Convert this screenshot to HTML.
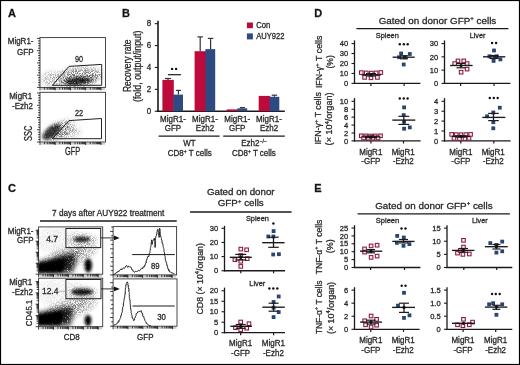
<!DOCTYPE html>
<html><head><meta charset="utf-8"><style>
html,body{margin:0;padding:0;background:#fff;}
svg{display:block;font-family:"Liberation Sans", sans-serif;will-change:transform;}
text{stroke:#2a2a2a;stroke-width:0.28px;}
text.s{transform-box:fill-box;transform-origin:50% 80%;transform:scaleY(1.045);}
</style></head><body>
<svg width="520" height="365" viewBox="0 0 520 365">
<defs>
<filter id="blur1" x="-20%" y="-20%" width="140%" height="140%"><feGaussianBlur stdDeviation="2.2"/></filter>
<filter id="blur15" x="-30%" y="-30%" width="160%" height="160%"><feGaussianBlur stdDeviation="1.4"/></filter>
<filter id="grain" x="-30%" y="-30%" width="160%" height="160%"><feGaussianBlur in="SourceGraphic" stdDeviation="2.2" result="b"/>
<feTurbulence type="fractalNoise" baseFrequency="1.1" numOctaves="2" seed="4" result="n"/>
<feColorMatrix in="n" type="matrix" values="0 0 0 0 0  0 0 0 0 0  0 0 0 0 0  0 0 0 3.2 -1.1" result="na"/>
<feComposite in="b" in2="na" operator="in"/></filter>
<filter id="grain2" x="-30%" y="-30%" width="160%" height="160%"><feGaussianBlur in="SourceGraphic" stdDeviation="1.6" result="b"/>
<feTurbulence type="fractalNoise" baseFrequency="1.1" numOctaves="2" seed="9" result="n"/>
<feColorMatrix in="n" type="matrix" values="0 0 0 0 0  0 0 0 0 0  0 0 0 0 0  0 0 0 3 0.1" result="na"/>
<feComposite in="b" in2="na" operator="in"/></filter>
<filter id="grain3" x="-30%" y="-30%" width="160%" height="160%"><feGaussianBlur in="SourceGraphic" stdDeviation="2.4" result="b"/>
<feTurbulence type="fractalNoise" baseFrequency="1.2" numOctaves="2" seed="13" result="n"/>
<feColorMatrix in="n" type="matrix" values="0 0 0 0 0  0 0 0 0 0  0 0 0 0 0  0 0 0 3 -0.3" result="na"/>
<feComposite in="b" in2="na" operator="in"/></filter>
<clipPath id="cpA1"><rect x="40.5" y="38" width="64.5" height="49"/></clipPath>
<clipPath id="cpA2"><rect x="40.5" y="92.8" width="64.5" height="48.7"/></clipPath>
<clipPath id="cpC1"><rect x="39.1" y="227.4" width="63.1" height="46.3"/></clipPath>
<clipPath id="cpC2"><rect x="39.1" y="278.7" width="63.1" height="47.5"/></clipPath>
</defs>
<rect width="520" height="365" fill="#fff"/>
<rect x="0.5" y="0.5" width="519" height="364" fill="none" stroke="#000" stroke-width="1.2" />
<text class="s" x="8" y="17" font-size="11" fill="#111" font-weight="bold" >A</text>
<text class="s" x="122" y="17" font-size="11" fill="#111" font-weight="bold" >B</text>
<text class="s" x="8" y="192" font-size="11" fill="#111" font-weight="bold" >C</text>
<text class="s" x="314.3" y="17.3" font-size="11" fill="#111" font-weight="bold" >D</text>
<text class="s" x="314.3" y="192" font-size="11" fill="#111" font-weight="bold" >E</text>
<g id="A">
<rect x="40" y="37.6" width="65.5" height="49.800000000000004" fill="none" stroke="#333" stroke-width="0.9" />
<line x1="37" y1="87.4" x2="40" y2="87.4" stroke="#111" stroke-width="0.8" />
<line x1="38.1" y1="84.95" x2="40" y2="84.95" stroke="#111" stroke-width="0.8" />
<line x1="38.1" y1="82.5" x2="40" y2="82.5" stroke="#111" stroke-width="0.8" />
<line x1="38.1" y1="80.05" x2="40" y2="80.05" stroke="#111" stroke-width="0.8" />
<line x1="38.1" y1="77.6" x2="40" y2="77.6" stroke="#111" stroke-width="0.8" />
<line x1="37" y1="75.15" x2="40" y2="75.15" stroke="#111" stroke-width="0.8" />
<line x1="38.1" y1="72.7" x2="40" y2="72.7" stroke="#111" stroke-width="0.8" />
<line x1="38.1" y1="70.25" x2="40" y2="70.25" stroke="#111" stroke-width="0.8" />
<line x1="38.1" y1="67.8" x2="40" y2="67.8" stroke="#111" stroke-width="0.8" />
<line x1="38.1" y1="65.35" x2="40" y2="65.35" stroke="#111" stroke-width="0.8" />
<line x1="37" y1="62.9" x2="40" y2="62.9" stroke="#111" stroke-width="0.8" />
<line x1="38.1" y1="60.45" x2="40" y2="60.45" stroke="#111" stroke-width="0.8" />
<line x1="38.1" y1="58.0" x2="40" y2="58.0" stroke="#111" stroke-width="0.8" />
<line x1="38.1" y1="55.55" x2="40" y2="55.55" stroke="#111" stroke-width="0.8" />
<line x1="38.1" y1="53.1" x2="40" y2="53.1" stroke="#111" stroke-width="0.8" />
<line x1="37" y1="50.65" x2="40" y2="50.65" stroke="#111" stroke-width="0.8" />
<line x1="38.1" y1="48.2" x2="40" y2="48.2" stroke="#111" stroke-width="0.8" />
<line x1="38.1" y1="45.75" x2="40" y2="45.75" stroke="#111" stroke-width="0.8" />
<line x1="38.1" y1="43.3" x2="40" y2="43.3" stroke="#111" stroke-width="0.8" />
<line x1="38.1" y1="40.85" x2="40" y2="40.85" stroke="#111" stroke-width="0.8" />
<line x1="37" y1="38.4" x2="40" y2="38.4" stroke="#111" stroke-width="0.8" />
<rect x="41" y="88.0" width="64.0" height="2.0" fill="#888" opacity="0.45"/>
<line x1="40.0" y1="87.4" x2="40.0" y2="90.4" stroke="#111" stroke-width="0.8" />
<line x1="44.59" y1="87.4" x2="44.59" y2="89.60000000000001" stroke="#111" stroke-width="0.8" />
<line x1="47.27" y1="87.4" x2="47.27" y2="89.60000000000001" stroke="#111" stroke-width="0.8" />
<line x1="49.17" y1="87.4" x2="49.17" y2="89.60000000000001" stroke="#111" stroke-width="0.8" />
<line x1="50.65" y1="87.4" x2="50.65" y2="89.60000000000001" stroke="#111" stroke-width="0.8" />
<line x1="51.85" y1="87.4" x2="51.85" y2="89.60000000000001" stroke="#111" stroke-width="0.8" />
<line x1="52.87" y1="87.4" x2="52.87" y2="89.60000000000001" stroke="#111" stroke-width="0.8" />
<line x1="53.76" y1="87.4" x2="53.76" y2="89.60000000000001" stroke="#111" stroke-width="0.8" />
<line x1="54.54" y1="87.4" x2="54.54" y2="89.60000000000001" stroke="#111" stroke-width="0.8" />
<line x1="55.23" y1="87.4" x2="55.23" y2="90.4" stroke="#111" stroke-width="0.8" />
<line x1="59.82" y1="87.4" x2="59.82" y2="89.60000000000001" stroke="#111" stroke-width="0.8" />
<line x1="62.5" y1="87.4" x2="62.5" y2="89.60000000000001" stroke="#111" stroke-width="0.8" />
<line x1="64.4" y1="87.4" x2="64.4" y2="89.60000000000001" stroke="#111" stroke-width="0.8" />
<line x1="65.88" y1="87.4" x2="65.88" y2="89.60000000000001" stroke="#111" stroke-width="0.8" />
<line x1="67.09" y1="87.4" x2="67.09" y2="89.60000000000001" stroke="#111" stroke-width="0.8" />
<line x1="68.11" y1="87.4" x2="68.11" y2="89.60000000000001" stroke="#111" stroke-width="0.8" />
<line x1="68.99" y1="87.4" x2="68.99" y2="89.60000000000001" stroke="#111" stroke-width="0.8" />
<line x1="69.77" y1="87.4" x2="69.77" y2="89.60000000000001" stroke="#111" stroke-width="0.8" />
<line x1="70.47" y1="87.4" x2="70.47" y2="90.4" stroke="#111" stroke-width="0.8" />
<line x1="75.05" y1="87.4" x2="75.05" y2="89.60000000000001" stroke="#111" stroke-width="0.8" />
<line x1="77.73" y1="87.4" x2="77.73" y2="89.60000000000001" stroke="#111" stroke-width="0.8" />
<line x1="79.64" y1="87.4" x2="79.64" y2="89.60000000000001" stroke="#111" stroke-width="0.8" />
<line x1="81.11" y1="87.4" x2="81.11" y2="89.60000000000001" stroke="#111" stroke-width="0.8" />
<line x1="82.32" y1="87.4" x2="82.32" y2="89.60000000000001" stroke="#111" stroke-width="0.8" />
<line x1="83.34" y1="87.4" x2="83.34" y2="89.60000000000001" stroke="#111" stroke-width="0.8" />
<line x1="84.22" y1="87.4" x2="84.22" y2="89.60000000000001" stroke="#111" stroke-width="0.8" />
<line x1="85.0" y1="87.4" x2="85.0" y2="89.60000000000001" stroke="#111" stroke-width="0.8" />
<line x1="85.7" y1="87.4" x2="85.7" y2="90.4" stroke="#111" stroke-width="0.8" />
<line x1="90.28" y1="87.4" x2="90.28" y2="89.60000000000001" stroke="#111" stroke-width="0.8" />
<line x1="92.97" y1="87.4" x2="92.97" y2="89.60000000000001" stroke="#111" stroke-width="0.8" />
<line x1="94.87" y1="87.4" x2="94.87" y2="89.60000000000001" stroke="#111" stroke-width="0.8" />
<line x1="96.34" y1="87.4" x2="96.34" y2="89.60000000000001" stroke="#111" stroke-width="0.8" />
<line x1="97.55" y1="87.4" x2="97.55" y2="89.60000000000001" stroke="#111" stroke-width="0.8" />
<line x1="98.57" y1="87.4" x2="98.57" y2="89.60000000000001" stroke="#111" stroke-width="0.8" />
<line x1="99.45" y1="87.4" x2="99.45" y2="89.60000000000001" stroke="#111" stroke-width="0.8" />
<line x1="100.23" y1="87.4" x2="100.23" y2="89.60000000000001" stroke="#111" stroke-width="0.8" />
<line x1="100.93" y1="87.4" x2="100.93" y2="90.4" stroke="#111" stroke-width="0.8" />
<rect x="40" y="92.3" width="65.5" height="49.7" fill="none" stroke="#333" stroke-width="0.9" />
<line x1="37" y1="142" x2="40" y2="142" stroke="#111" stroke-width="0.8" />
<line x1="38.1" y1="139.55" x2="40" y2="139.55" stroke="#111" stroke-width="0.8" />
<line x1="38.1" y1="137.1" x2="40" y2="137.1" stroke="#111" stroke-width="0.8" />
<line x1="38.1" y1="134.65" x2="40" y2="134.65" stroke="#111" stroke-width="0.8" />
<line x1="38.1" y1="132.2" x2="40" y2="132.2" stroke="#111" stroke-width="0.8" />
<line x1="37" y1="129.75" x2="40" y2="129.75" stroke="#111" stroke-width="0.8" />
<line x1="38.1" y1="127.3" x2="40" y2="127.3" stroke="#111" stroke-width="0.8" />
<line x1="38.1" y1="124.85" x2="40" y2="124.85" stroke="#111" stroke-width="0.8" />
<line x1="38.1" y1="122.4" x2="40" y2="122.4" stroke="#111" stroke-width="0.8" />
<line x1="38.1" y1="119.95" x2="40" y2="119.95" stroke="#111" stroke-width="0.8" />
<line x1="37" y1="117.5" x2="40" y2="117.5" stroke="#111" stroke-width="0.8" />
<line x1="38.1" y1="115.05" x2="40" y2="115.05" stroke="#111" stroke-width="0.8" />
<line x1="38.1" y1="112.6" x2="40" y2="112.6" stroke="#111" stroke-width="0.8" />
<line x1="38.1" y1="110.15" x2="40" y2="110.15" stroke="#111" stroke-width="0.8" />
<line x1="38.1" y1="107.7" x2="40" y2="107.7" stroke="#111" stroke-width="0.8" />
<line x1="37" y1="105.25" x2="40" y2="105.25" stroke="#111" stroke-width="0.8" />
<line x1="38.1" y1="102.8" x2="40" y2="102.8" stroke="#111" stroke-width="0.8" />
<line x1="38.1" y1="100.35" x2="40" y2="100.35" stroke="#111" stroke-width="0.8" />
<line x1="38.1" y1="97.9" x2="40" y2="97.9" stroke="#111" stroke-width="0.8" />
<line x1="38.1" y1="95.45" x2="40" y2="95.45" stroke="#111" stroke-width="0.8" />
<line x1="37" y1="93.0" x2="40" y2="93.0" stroke="#111" stroke-width="0.8" />
<rect x="41" y="142.6" width="64.0" height="2.0" fill="#888" opacity="0.45"/>
<line x1="40.0" y1="142" x2="40.0" y2="145" stroke="#111" stroke-width="0.8" />
<line x1="44.59" y1="142" x2="44.59" y2="144.2" stroke="#111" stroke-width="0.8" />
<line x1="47.27" y1="142" x2="47.27" y2="144.2" stroke="#111" stroke-width="0.8" />
<line x1="49.17" y1="142" x2="49.17" y2="144.2" stroke="#111" stroke-width="0.8" />
<line x1="50.65" y1="142" x2="50.65" y2="144.2" stroke="#111" stroke-width="0.8" />
<line x1="51.85" y1="142" x2="51.85" y2="144.2" stroke="#111" stroke-width="0.8" />
<line x1="52.87" y1="142" x2="52.87" y2="144.2" stroke="#111" stroke-width="0.8" />
<line x1="53.76" y1="142" x2="53.76" y2="144.2" stroke="#111" stroke-width="0.8" />
<line x1="54.54" y1="142" x2="54.54" y2="144.2" stroke="#111" stroke-width="0.8" />
<line x1="55.23" y1="142" x2="55.23" y2="145" stroke="#111" stroke-width="0.8" />
<line x1="59.82" y1="142" x2="59.82" y2="144.2" stroke="#111" stroke-width="0.8" />
<line x1="62.5" y1="142" x2="62.5" y2="144.2" stroke="#111" stroke-width="0.8" />
<line x1="64.4" y1="142" x2="64.4" y2="144.2" stroke="#111" stroke-width="0.8" />
<line x1="65.88" y1="142" x2="65.88" y2="144.2" stroke="#111" stroke-width="0.8" />
<line x1="67.09" y1="142" x2="67.09" y2="144.2" stroke="#111" stroke-width="0.8" />
<line x1="68.11" y1="142" x2="68.11" y2="144.2" stroke="#111" stroke-width="0.8" />
<line x1="68.99" y1="142" x2="68.99" y2="144.2" stroke="#111" stroke-width="0.8" />
<line x1="69.77" y1="142" x2="69.77" y2="144.2" stroke="#111" stroke-width="0.8" />
<line x1="70.47" y1="142" x2="70.47" y2="145" stroke="#111" stroke-width="0.8" />
<line x1="75.05" y1="142" x2="75.05" y2="144.2" stroke="#111" stroke-width="0.8" />
<line x1="77.73" y1="142" x2="77.73" y2="144.2" stroke="#111" stroke-width="0.8" />
<line x1="79.64" y1="142" x2="79.64" y2="144.2" stroke="#111" stroke-width="0.8" />
<line x1="81.11" y1="142" x2="81.11" y2="144.2" stroke="#111" stroke-width="0.8" />
<line x1="82.32" y1="142" x2="82.32" y2="144.2" stroke="#111" stroke-width="0.8" />
<line x1="83.34" y1="142" x2="83.34" y2="144.2" stroke="#111" stroke-width="0.8" />
<line x1="84.22" y1="142" x2="84.22" y2="144.2" stroke="#111" stroke-width="0.8" />
<line x1="85.0" y1="142" x2="85.0" y2="144.2" stroke="#111" stroke-width="0.8" />
<line x1="85.7" y1="142" x2="85.7" y2="145" stroke="#111" stroke-width="0.8" />
<line x1="90.28" y1="142" x2="90.28" y2="144.2" stroke="#111" stroke-width="0.8" />
<line x1="92.97" y1="142" x2="92.97" y2="144.2" stroke="#111" stroke-width="0.8" />
<line x1="94.87" y1="142" x2="94.87" y2="144.2" stroke="#111" stroke-width="0.8" />
<line x1="96.34" y1="142" x2="96.34" y2="144.2" stroke="#111" stroke-width="0.8" />
<line x1="97.55" y1="142" x2="97.55" y2="144.2" stroke="#111" stroke-width="0.8" />
<line x1="98.57" y1="142" x2="98.57" y2="144.2" stroke="#111" stroke-width="0.8" />
<line x1="99.45" y1="142" x2="99.45" y2="144.2" stroke="#111" stroke-width="0.8" />
<line x1="100.23" y1="142" x2="100.23" y2="144.2" stroke="#111" stroke-width="0.8" />
<line x1="100.93" y1="142" x2="100.93" y2="145" stroke="#111" stroke-width="0.8" />
<g clip-path="url(#cpA1)">
<g filter="url(#grain)">
<ellipse cx="51" cy="79" rx="9" ry="7.5" fill="#777" opacity="0.6"/>
<ellipse cx="78" cy="77" rx="24" ry="9.5" fill="#555" opacity="0.75" transform="rotate(-6 78 77)"/>
<ellipse cx="79" cy="80" rx="17" ry="5.5" fill="#222" opacity="0.7" transform="rotate(-4 79 80)"/>
</g>
<g filter="url(#grain2)">
<ellipse cx="78" cy="81" rx="13" ry="3.6" fill="#000" opacity="0.75" transform="rotate(-4 78 81)"/>
</g>
</g>
<g clip-path="url(#cpA2)">
<g filter="url(#grain)">
<ellipse cx="68" cy="133" rx="13" ry="5.5" fill="#888" opacity="0.6" transform="rotate(-10 68 133)"/>
<ellipse cx="59" cy="130.5" rx="16" ry="8" fill="#444" opacity="0.7" transform="rotate(-28 59 130.5)"/>
</g>
<g filter="url(#grain2)">
<ellipse cx="51.5" cy="132" rx="11" ry="5.2" fill="#000" opacity="0.72" transform="rotate(-38 51.5 132)"/>
</g>
</g>
<polygon points="52.4,85.3 69,66.4 101.7,64.4 101.7,85.3" fill="none" stroke="#222" stroke-width="1"/>
<polygon points="52.4,138.7 69,120.6 101.5,118.5 101.5,138.7" fill="none" stroke="#222" stroke-width="1"/>
<text class="s" x="79.05" y="61.7" font-size="8.4" fill="#262626" text-anchor="middle" textLength="8.1" lengthAdjust="spacingAndGlyphs" >90</text>
<text class="s" x="79.05" y="115.6" font-size="8.4" fill="#262626" text-anchor="middle" textLength="8.1" lengthAdjust="spacingAndGlyphs" >22</text>
<text class="s" x="33.5" y="44.5" font-size="8" fill="#262626" text-anchor="end" >MigR1-</text>
<text class="s" x="33.5" y="54.6" font-size="8" fill="#262626" text-anchor="end" >GFP</text>
<text class="s" x="32.3" y="98.8" font-size="8" fill="#262626" text-anchor="end" >MigR1</text>
<text class="s" x="33" y="108.7" font-size="8" fill="#262626" text-anchor="end" >-Ezh2</text>
<text transform="translate(32.3,133.2) rotate(-90)" font-size="10.8" fill="#262626" text-anchor="middle" textLength="15.4" lengthAdjust="spacingAndGlyphs" >SSC</text>
<text class="s" x="72.6" y="154.6" font-size="9.9" fill="#262626" text-anchor="middle" textLength="15.2" lengthAdjust="spacingAndGlyphs" >GFP</text>
</g>
<g id="B">
<line x1="158" y1="20.8" x2="158" y2="111.95" stroke="#1a1a1a" stroke-width="1.6" />
<line x1="157.3" y1="111.25" x2="284.8" y2="111.25" stroke="#1a1a1a" stroke-width="1.5" />
<line x1="154.8" y1="111.25" x2="158" y2="111.25" stroke="#1a1a1a" stroke-width="1.1" />
<text class="s" x="151.2" y="114.05" font-size="8" fill="#262626" text-anchor="end" >0</text>
<line x1="154.8" y1="89.35" x2="158" y2="89.35" stroke="#1a1a1a" stroke-width="1.1" />
<text class="s" x="151.2" y="92.14999999999999" font-size="8" fill="#262626" text-anchor="end" >2</text>
<line x1="154.8" y1="67.45" x2="158" y2="67.45" stroke="#1a1a1a" stroke-width="1.1" />
<text class="s" x="151.2" y="70.25" font-size="8" fill="#262626" text-anchor="end" >4</text>
<line x1="154.8" y1="45.55000000000001" x2="158" y2="45.55000000000001" stroke="#1a1a1a" stroke-width="1.1" />
<text class="s" x="151.2" y="48.35000000000001" font-size="8" fill="#262626" text-anchor="end" >6</text>
<line x1="154.8" y1="23.650000000000006" x2="158" y2="23.650000000000006" stroke="#1a1a1a" stroke-width="1.1" />
<text class="s" x="151.2" y="26.450000000000006" font-size="8" fill="#262626" text-anchor="end" >8</text>
<line x1="168.0" y1="78.5" x2="168.0" y2="79.9" stroke="#333" stroke-width="1.2" />
<line x1="165.0" y1="78.5" x2="171.0" y2="78.5" stroke="#333" stroke-width="1.2" />
<rect x="162.4" y="79.9" width="11.399999999999983" height="31.349999999999994" fill="#bd0a3b" />
<line x1="178.4" y1="90.4" x2="178.4" y2="94.6" stroke="#333" stroke-width="1.2" />
<line x1="175.9" y1="90.4" x2="180.9" y2="90.4" stroke="#333" stroke-width="1.2" />
<rect x="173.2" y="94.6" width="9.800000000000011" height="16.650000000000006" fill="#2d4b82" />
<line x1="200.2" y1="36.9" x2="200.2" y2="51.2" stroke="#333" stroke-width="1.2" />
<line x1="197.45" y1="36.9" x2="202.95" y2="36.9" stroke="#333" stroke-width="1.2" />
<rect x="194.6" y="51.2" width="11.400000000000011" height="60.05" fill="#bd0a3b" />
<line x1="210.6" y1="38.4" x2="210.6" y2="49.1" stroke="#333" stroke-width="1.2" />
<line x1="207.85" y1="38.4" x2="213.35" y2="38.4" stroke="#333" stroke-width="1.2" />
<rect x="205.4" y="49.1" width="9.799999999999983" height="62.15" fill="#2d4b82" />
<rect x="226.6" y="109.4" width="11.400000000000011" height="1.8499999999999943" fill="#bd0a3b" />
<line x1="242.4" y1="107.6" x2="242.4" y2="108.3" stroke="#333" stroke-width="1.2" />
<line x1="239.9" y1="107.6" x2="244.9" y2="107.6" stroke="#333" stroke-width="1.2" />
<rect x="237.4" y="108.3" width="9.799999999999983" height="2.950000000000003" fill="#2d4b82" />
<rect x="258.7" y="95.9" width="11.400000000000011" height="15.349999999999994" fill="#bd0a3b" />
<line x1="274.4" y1="95.2" x2="274.4" y2="96.8" stroke="#333" stroke-width="1.2" />
<line x1="271.65" y1="95.2" x2="277.15" y2="95.2" stroke="#333" stroke-width="1.2" />
<rect x="269.5" y="96.8" width="9.800000000000011" height="14.450000000000003" fill="#2d4b82" />
<line x1="167.9" y1="74.7" x2="180.9" y2="74.7" stroke="#1a1a1a" stroke-width="1.2" />
<circle cx="172.1" cy="68.9" r="1.2" fill="#111"/>
<circle cx="176.1" cy="68.9" r="1.2" fill="#111"/>
<text class="s" x="173" y="121.8" font-size="8" fill="#262626" text-anchor="middle" >MigR1-</text>
<text class="s" x="173" y="131.4" font-size="8" fill="#262626" text-anchor="middle" >GFP</text>
<text class="s" x="205" y="121.8" font-size="8" fill="#262626" text-anchor="middle" >MigR1-</text>
<text class="s" x="205" y="131.4" font-size="8" fill="#262626" text-anchor="middle" >Ezh2</text>
<text class="s" x="237.2" y="121.8" font-size="8" fill="#262626" text-anchor="middle" >MigR1-</text>
<text class="s" x="237.2" y="131.4" font-size="8" fill="#262626" text-anchor="middle" >GFP</text>
<text class="s" x="269" y="121.8" font-size="8" fill="#262626" text-anchor="middle" >MigR1-</text>
<text class="s" x="269" y="131.4" font-size="8" fill="#262626" text-anchor="middle" >Ezh2</text>
<line x1="158.6" y1="136.2" x2="219.6" y2="136.2" stroke="#1a1a1a" stroke-width="1.3" />
<line x1="223.2" y1="136.2" x2="284.8" y2="136.2" stroke="#1a1a1a" stroke-width="1.3" />
<text class="s" x="189.5" y="146.5" font-size="8" fill="#262626" text-anchor="middle" >WT</text>
<text class="s" x="189.8" y="156" font-size="8" fill="#262626" text-anchor="middle" >CD8<tspan font-size="5" dy="-3">+</tspan><tspan dy="3"> T cells</tspan></text>
<text class="s" x="254" y="146.5" font-size="8" fill="#262626" text-anchor="middle" >Ezh2<tspan font-size="5" dy="-3">−/−</tspan></text>
<text class="s" x="253.9" y="156" font-size="8" fill="#262626" text-anchor="middle" >CD8<tspan font-size="5" dy="-3">+</tspan><tspan dy="3"> T cells</tspan></text>
<rect x="246.9" y="22.5" width="6" height="5.7" fill="#bd0a3b" />
<rect x="246.9" y="33.4" width="6" height="6" fill="#2d4b82" />
<text class="s" x="256.2" y="27.9" font-size="8" fill="#262626" textLength="14" lengthAdjust="spacingAndGlyphs" >Con</text>
<text class="s" x="256.2" y="38.8" font-size="8" fill="#262626" textLength="28.2" lengthAdjust="spacingAndGlyphs" >AUY922</text>
<text transform="translate(130.5,65.8) rotate(-90)" font-size="10" fill="#262626" text-anchor="middle" textLength="52.6" lengthAdjust="spacingAndGlyphs" >Recovery rate</text>
<text transform="translate(141,66.3) rotate(-90)" font-size="10" fill="#262626" text-anchor="middle" textLength="71.5" lengthAdjust="spacingAndGlyphs" >(fold, output/input)</text>
</g>
<g id="C">
<text class="s" x="108.25" y="215.6" font-size="8.2" fill="#262626" text-anchor="middle" textLength="112.3" lengthAdjust="spacingAndGlyphs" >7 days after AUY922 treatment</text>
<line x1="40" y1="221" x2="176.7" y2="221" stroke="#1a1a1a" stroke-width="1.3" />
<rect x="38.6" y="226.9" width="64.1" height="47.29999999999998" fill="none" stroke="#333" stroke-width="0.9" />
<line x1="35.6" y1="274.2" x2="38.6" y2="274.2" stroke="#111" stroke-width="0.8" />
<line x1="36.6" y1="270.89" x2="38.6" y2="270.89" stroke="#111" stroke-width="0.8" />
<line x1="36.6" y1="268.95" x2="38.6" y2="268.95" stroke="#111" stroke-width="0.8" />
<line x1="36.6" y1="267.58" x2="38.6" y2="267.58" stroke="#111" stroke-width="0.8" />
<line x1="36.6" y1="266.51" x2="38.6" y2="266.51" stroke="#111" stroke-width="0.8" />
<line x1="36.6" y1="265.64" x2="38.6" y2="265.64" stroke="#111" stroke-width="0.8" />
<line x1="36.6" y1="264.9" x2="38.6" y2="264.9" stroke="#111" stroke-width="0.8" />
<line x1="36.6" y1="264.27" x2="38.6" y2="264.27" stroke="#111" stroke-width="0.8" />
<line x1="36.6" y1="263.7" x2="38.6" y2="263.7" stroke="#111" stroke-width="0.8" />
<line x1="35.6" y1="263.2" x2="38.6" y2="263.2" stroke="#111" stroke-width="0.8" />
<line x1="36.6" y1="259.89" x2="38.6" y2="259.89" stroke="#111" stroke-width="0.8" />
<line x1="36.6" y1="257.95" x2="38.6" y2="257.95" stroke="#111" stroke-width="0.8" />
<line x1="36.6" y1="256.58" x2="38.6" y2="256.58" stroke="#111" stroke-width="0.8" />
<line x1="36.6" y1="255.51" x2="38.6" y2="255.51" stroke="#111" stroke-width="0.8" />
<line x1="36.6" y1="254.64" x2="38.6" y2="254.64" stroke="#111" stroke-width="0.8" />
<line x1="36.6" y1="253.9" x2="38.6" y2="253.9" stroke="#111" stroke-width="0.8" />
<line x1="36.6" y1="253.27" x2="38.6" y2="253.27" stroke="#111" stroke-width="0.8" />
<line x1="36.6" y1="252.7" x2="38.6" y2="252.7" stroke="#111" stroke-width="0.8" />
<line x1="35.6" y1="252.2" x2="38.6" y2="252.2" stroke="#111" stroke-width="0.8" />
<line x1="36.6" y1="248.89" x2="38.6" y2="248.89" stroke="#111" stroke-width="0.8" />
<line x1="36.6" y1="246.95" x2="38.6" y2="246.95" stroke="#111" stroke-width="0.8" />
<line x1="36.6" y1="245.58" x2="38.6" y2="245.58" stroke="#111" stroke-width="0.8" />
<line x1="36.6" y1="244.51" x2="38.6" y2="244.51" stroke="#111" stroke-width="0.8" />
<line x1="36.6" y1="243.64" x2="38.6" y2="243.64" stroke="#111" stroke-width="0.8" />
<line x1="36.6" y1="242.9" x2="38.6" y2="242.9" stroke="#111" stroke-width="0.8" />
<line x1="36.6" y1="242.27" x2="38.6" y2="242.27" stroke="#111" stroke-width="0.8" />
<line x1="36.6" y1="241.7" x2="38.6" y2="241.7" stroke="#111" stroke-width="0.8" />
<line x1="35.6" y1="241.2" x2="38.6" y2="241.2" stroke="#111" stroke-width="0.8" />
<line x1="36.6" y1="237.89" x2="38.6" y2="237.89" stroke="#111" stroke-width="0.8" />
<line x1="36.6" y1="235.95" x2="38.6" y2="235.95" stroke="#111" stroke-width="0.8" />
<line x1="36.6" y1="234.58" x2="38.6" y2="234.58" stroke="#111" stroke-width="0.8" />
<line x1="36.6" y1="233.51" x2="38.6" y2="233.51" stroke="#111" stroke-width="0.8" />
<line x1="36.6" y1="232.64" x2="38.6" y2="232.64" stroke="#111" stroke-width="0.8" />
<line x1="36.6" y1="231.9" x2="38.6" y2="231.9" stroke="#111" stroke-width="0.8" />
<line x1="36.6" y1="231.27" x2="38.6" y2="231.27" stroke="#111" stroke-width="0.8" />
<line x1="36.6" y1="230.7" x2="38.6" y2="230.7" stroke="#111" stroke-width="0.8" />
<line x1="35.6" y1="230.2" x2="38.6" y2="230.2" stroke="#111" stroke-width="0.8" />
<rect x="39.6" y="274.8" width="62.599999999999994" height="2.0" fill="#888" opacity="0.45"/>
<line x1="38.6" y1="274.2" x2="38.6" y2="277.2" stroke="#111" stroke-width="0.8" />
<line x1="43.09" y1="274.2" x2="43.09" y2="276.4" stroke="#111" stroke-width="0.8" />
<line x1="45.71" y1="274.2" x2="45.71" y2="276.4" stroke="#111" stroke-width="0.8" />
<line x1="47.57" y1="274.2" x2="47.57" y2="276.4" stroke="#111" stroke-width="0.8" />
<line x1="49.02" y1="274.2" x2="49.02" y2="276.4" stroke="#111" stroke-width="0.8" />
<line x1="50.2" y1="274.2" x2="50.2" y2="276.4" stroke="#111" stroke-width="0.8" />
<line x1="51.2" y1="274.2" x2="51.2" y2="276.4" stroke="#111" stroke-width="0.8" />
<line x1="52.06" y1="274.2" x2="52.06" y2="276.4" stroke="#111" stroke-width="0.8" />
<line x1="52.82" y1="274.2" x2="52.82" y2="276.4" stroke="#111" stroke-width="0.8" />
<line x1="53.51" y1="274.2" x2="53.51" y2="277.2" stroke="#111" stroke-width="0.8" />
<line x1="57.99" y1="274.2" x2="57.99" y2="276.4" stroke="#111" stroke-width="0.8" />
<line x1="60.62" y1="274.2" x2="60.62" y2="276.4" stroke="#111" stroke-width="0.8" />
<line x1="62.48" y1="274.2" x2="62.48" y2="276.4" stroke="#111" stroke-width="0.8" />
<line x1="63.93" y1="274.2" x2="63.93" y2="276.4" stroke="#111" stroke-width="0.8" />
<line x1="65.11" y1="274.2" x2="65.11" y2="276.4" stroke="#111" stroke-width="0.8" />
<line x1="66.1" y1="274.2" x2="66.1" y2="276.4" stroke="#111" stroke-width="0.8" />
<line x1="66.97" y1="274.2" x2="66.97" y2="276.4" stroke="#111" stroke-width="0.8" />
<line x1="67.73" y1="274.2" x2="67.73" y2="276.4" stroke="#111" stroke-width="0.8" />
<line x1="68.41" y1="274.2" x2="68.41" y2="277.2" stroke="#111" stroke-width="0.8" />
<line x1="72.9" y1="274.2" x2="72.9" y2="276.4" stroke="#111" stroke-width="0.8" />
<line x1="75.53" y1="274.2" x2="75.53" y2="276.4" stroke="#111" stroke-width="0.8" />
<line x1="77.39" y1="274.2" x2="77.39" y2="276.4" stroke="#111" stroke-width="0.8" />
<line x1="78.83" y1="274.2" x2="78.83" y2="276.4" stroke="#111" stroke-width="0.8" />
<line x1="80.01" y1="274.2" x2="80.01" y2="276.4" stroke="#111" stroke-width="0.8" />
<line x1="81.01" y1="274.2" x2="81.01" y2="276.4" stroke="#111" stroke-width="0.8" />
<line x1="81.88" y1="274.2" x2="81.88" y2="276.4" stroke="#111" stroke-width="0.8" />
<line x1="82.64" y1="274.2" x2="82.64" y2="276.4" stroke="#111" stroke-width="0.8" />
<line x1="83.32" y1="274.2" x2="83.32" y2="277.2" stroke="#111" stroke-width="0.8" />
<line x1="87.81" y1="274.2" x2="87.81" y2="276.4" stroke="#111" stroke-width="0.8" />
<line x1="90.43" y1="274.2" x2="90.43" y2="276.4" stroke="#111" stroke-width="0.8" />
<line x1="92.3" y1="274.2" x2="92.3" y2="276.4" stroke="#111" stroke-width="0.8" />
<line x1="93.74" y1="274.2" x2="93.74" y2="276.4" stroke="#111" stroke-width="0.8" />
<line x1="94.92" y1="274.2" x2="94.92" y2="276.4" stroke="#111" stroke-width="0.8" />
<line x1="95.92" y1="274.2" x2="95.92" y2="276.4" stroke="#111" stroke-width="0.8" />
<line x1="96.78" y1="274.2" x2="96.78" y2="276.4" stroke="#111" stroke-width="0.8" />
<line x1="97.55" y1="274.2" x2="97.55" y2="276.4" stroke="#111" stroke-width="0.8" />
<line x1="98.23" y1="274.2" x2="98.23" y2="277.2" stroke="#111" stroke-width="0.8" />
<rect x="38.6" y="278.2" width="64.1" height="48.5" fill="none" stroke="#333" stroke-width="0.9" />
<line x1="35.6" y1="326.7" x2="38.6" y2="326.7" stroke="#111" stroke-width="0.8" />
<line x1="36.6" y1="323.3" x2="38.6" y2="323.3" stroke="#111" stroke-width="0.8" />
<line x1="36.6" y1="321.32" x2="38.6" y2="321.32" stroke="#111" stroke-width="0.8" />
<line x1="36.6" y1="319.91" x2="38.6" y2="319.91" stroke="#111" stroke-width="0.8" />
<line x1="36.6" y1="318.82" x2="38.6" y2="318.82" stroke="#111" stroke-width="0.8" />
<line x1="36.6" y1="317.92" x2="38.6" y2="317.92" stroke="#111" stroke-width="0.8" />
<line x1="36.6" y1="317.17" x2="38.6" y2="317.17" stroke="#111" stroke-width="0.8" />
<line x1="36.6" y1="316.51" x2="38.6" y2="316.51" stroke="#111" stroke-width="0.8" />
<line x1="36.6" y1="315.94" x2="38.6" y2="315.94" stroke="#111" stroke-width="0.8" />
<line x1="35.6" y1="315.42" x2="38.6" y2="315.42" stroke="#111" stroke-width="0.8" />
<line x1="36.6" y1="312.03" x2="38.6" y2="312.03" stroke="#111" stroke-width="0.8" />
<line x1="36.6" y1="310.04" x2="38.6" y2="310.04" stroke="#111" stroke-width="0.8" />
<line x1="36.6" y1="308.63" x2="38.6" y2="308.63" stroke="#111" stroke-width="0.8" />
<line x1="36.6" y1="307.54" x2="38.6" y2="307.54" stroke="#111" stroke-width="0.8" />
<line x1="36.6" y1="306.64" x2="38.6" y2="306.64" stroke="#111" stroke-width="0.8" />
<line x1="36.6" y1="305.89" x2="38.6" y2="305.89" stroke="#111" stroke-width="0.8" />
<line x1="36.6" y1="305.23" x2="38.6" y2="305.23" stroke="#111" stroke-width="0.8" />
<line x1="36.6" y1="304.66" x2="38.6" y2="304.66" stroke="#111" stroke-width="0.8" />
<line x1="35.6" y1="304.14" x2="38.6" y2="304.14" stroke="#111" stroke-width="0.8" />
<line x1="36.6" y1="300.75" x2="38.6" y2="300.75" stroke="#111" stroke-width="0.8" />
<line x1="36.6" y1="298.76" x2="38.6" y2="298.76" stroke="#111" stroke-width="0.8" />
<line x1="36.6" y1="297.35" x2="38.6" y2="297.35" stroke="#111" stroke-width="0.8" />
<line x1="36.6" y1="296.26" x2="38.6" y2="296.26" stroke="#111" stroke-width="0.8" />
<line x1="36.6" y1="295.37" x2="38.6" y2="295.37" stroke="#111" stroke-width="0.8" />
<line x1="36.6" y1="294.61" x2="38.6" y2="294.61" stroke="#111" stroke-width="0.8" />
<line x1="36.6" y1="293.96" x2="38.6" y2="293.96" stroke="#111" stroke-width="0.8" />
<line x1="36.6" y1="293.38" x2="38.6" y2="293.38" stroke="#111" stroke-width="0.8" />
<line x1="35.6" y1="292.86" x2="38.6" y2="292.86" stroke="#111" stroke-width="0.8" />
<line x1="36.6" y1="289.47" x2="38.6" y2="289.47" stroke="#111" stroke-width="0.8" />
<line x1="36.6" y1="287.48" x2="38.6" y2="287.48" stroke="#111" stroke-width="0.8" />
<line x1="36.6" y1="286.07" x2="38.6" y2="286.07" stroke="#111" stroke-width="0.8" />
<line x1="36.6" y1="284.98" x2="38.6" y2="284.98" stroke="#111" stroke-width="0.8" />
<line x1="36.6" y1="284.09" x2="38.6" y2="284.09" stroke="#111" stroke-width="0.8" />
<line x1="36.6" y1="283.33" x2="38.6" y2="283.33" stroke="#111" stroke-width="0.8" />
<line x1="36.6" y1="282.68" x2="38.6" y2="282.68" stroke="#111" stroke-width="0.8" />
<line x1="36.6" y1="282.1" x2="38.6" y2="282.1" stroke="#111" stroke-width="0.8" />
<line x1="35.6" y1="281.58" x2="38.6" y2="281.58" stroke="#111" stroke-width="0.8" />
<rect x="39.6" y="327.3" width="62.599999999999994" height="2.0" fill="#888" opacity="0.45"/>
<line x1="38.6" y1="326.7" x2="38.6" y2="329.7" stroke="#111" stroke-width="0.8" />
<line x1="43.09" y1="326.7" x2="43.09" y2="328.9" stroke="#111" stroke-width="0.8" />
<line x1="45.71" y1="326.7" x2="45.71" y2="328.9" stroke="#111" stroke-width="0.8" />
<line x1="47.57" y1="326.7" x2="47.57" y2="328.9" stroke="#111" stroke-width="0.8" />
<line x1="49.02" y1="326.7" x2="49.02" y2="328.9" stroke="#111" stroke-width="0.8" />
<line x1="50.2" y1="326.7" x2="50.2" y2="328.9" stroke="#111" stroke-width="0.8" />
<line x1="51.2" y1="326.7" x2="51.2" y2="328.9" stroke="#111" stroke-width="0.8" />
<line x1="52.06" y1="326.7" x2="52.06" y2="328.9" stroke="#111" stroke-width="0.8" />
<line x1="52.82" y1="326.7" x2="52.82" y2="328.9" stroke="#111" stroke-width="0.8" />
<line x1="53.51" y1="326.7" x2="53.51" y2="329.7" stroke="#111" stroke-width="0.8" />
<line x1="57.99" y1="326.7" x2="57.99" y2="328.9" stroke="#111" stroke-width="0.8" />
<line x1="60.62" y1="326.7" x2="60.62" y2="328.9" stroke="#111" stroke-width="0.8" />
<line x1="62.48" y1="326.7" x2="62.48" y2="328.9" stroke="#111" stroke-width="0.8" />
<line x1="63.93" y1="326.7" x2="63.93" y2="328.9" stroke="#111" stroke-width="0.8" />
<line x1="65.11" y1="326.7" x2="65.11" y2="328.9" stroke="#111" stroke-width="0.8" />
<line x1="66.1" y1="326.7" x2="66.1" y2="328.9" stroke="#111" stroke-width="0.8" />
<line x1="66.97" y1="326.7" x2="66.97" y2="328.9" stroke="#111" stroke-width="0.8" />
<line x1="67.73" y1="326.7" x2="67.73" y2="328.9" stroke="#111" stroke-width="0.8" />
<line x1="68.41" y1="326.7" x2="68.41" y2="329.7" stroke="#111" stroke-width="0.8" />
<line x1="72.9" y1="326.7" x2="72.9" y2="328.9" stroke="#111" stroke-width="0.8" />
<line x1="75.53" y1="326.7" x2="75.53" y2="328.9" stroke="#111" stroke-width="0.8" />
<line x1="77.39" y1="326.7" x2="77.39" y2="328.9" stroke="#111" stroke-width="0.8" />
<line x1="78.83" y1="326.7" x2="78.83" y2="328.9" stroke="#111" stroke-width="0.8" />
<line x1="80.01" y1="326.7" x2="80.01" y2="328.9" stroke="#111" stroke-width="0.8" />
<line x1="81.01" y1="326.7" x2="81.01" y2="328.9" stroke="#111" stroke-width="0.8" />
<line x1="81.88" y1="326.7" x2="81.88" y2="328.9" stroke="#111" stroke-width="0.8" />
<line x1="82.64" y1="326.7" x2="82.64" y2="328.9" stroke="#111" stroke-width="0.8" />
<line x1="83.32" y1="326.7" x2="83.32" y2="329.7" stroke="#111" stroke-width="0.8" />
<line x1="87.81" y1="326.7" x2="87.81" y2="328.9" stroke="#111" stroke-width="0.8" />
<line x1="90.43" y1="326.7" x2="90.43" y2="328.9" stroke="#111" stroke-width="0.8" />
<line x1="92.3" y1="326.7" x2="92.3" y2="328.9" stroke="#111" stroke-width="0.8" />
<line x1="93.74" y1="326.7" x2="93.74" y2="328.9" stroke="#111" stroke-width="0.8" />
<line x1="94.92" y1="326.7" x2="94.92" y2="328.9" stroke="#111" stroke-width="0.8" />
<line x1="95.92" y1="326.7" x2="95.92" y2="328.9" stroke="#111" stroke-width="0.8" />
<line x1="96.78" y1="326.7" x2="96.78" y2="328.9" stroke="#111" stroke-width="0.8" />
<line x1="97.55" y1="326.7" x2="97.55" y2="328.9" stroke="#111" stroke-width="0.8" />
<line x1="98.23" y1="326.7" x2="98.23" y2="329.7" stroke="#111" stroke-width="0.8" />
<g clip-path="url(#cpC1)"><g transform="translate(0,0)">
<g filter="url(#grain)">
<ellipse cx="70" cy="256" rx="28" ry="10" fill="#666" opacity="0.6" transform="rotate(-18 70 256)"/>
<ellipse cx="74" cy="254" rx="12" ry="4" fill="#333" opacity="0.6" transform="rotate(-28 74 254)"/>
<ellipse cx="82" cy="239.5" rx="15" ry="5.5" fill="#666" opacity="0.6"/>
<ellipse cx="60" cy="240" rx="25" ry="14" fill="#bbb" opacity="0.35"/>
</g>
<g filter="url(#grain3)">
<path d="M34,273 L34,262 Q48,260.5 58,256.5 Q66,253 74,253.5 Q78,262 72,273 Z" fill="#000" opacity="0.85"/>
</g>
<g filter="url(#grain2)">
<ellipse cx="81.8" cy="239.3" rx="8.5" ry="2.6" fill="#000" opacity="0.85"/>
<path d="M34,272.5 L34,264 Q46,262.5 56,259.5 Q62,258 66,260 Q66,268 62,272.5 Z" fill="#000"/>
<ellipse cx="88.2" cy="265.5" rx="3.8" ry="7" fill="#000"/>
</g>
</g></g>
<g clip-path="url(#cpC2)"><g transform="translate(0,52.5)">
<g filter="url(#grain)">
<ellipse cx="70" cy="256" rx="28" ry="10" fill="#666" opacity="0.6" transform="rotate(-18 70 256)"/>
<ellipse cx="74" cy="254" rx="12" ry="4" fill="#333" opacity="0.6" transform="rotate(-28 74 254)"/>
<ellipse cx="82" cy="239.5" rx="15" ry="5.5" fill="#666" opacity="0.6"/>
<ellipse cx="60" cy="240" rx="25" ry="14" fill="#bbb" opacity="0.35"/>
</g>
<g filter="url(#grain3)">
<path d="M34,273 L34,260.5 Q48,258.5 58,256 Q65,253.5 71,254.5 Q75,262 70,273 Z" fill="#000" opacity="0.85"/>
</g>
<g filter="url(#grain2)">
<ellipse cx="82" cy="239.5" rx="11" ry="3.2" fill="#000" opacity="0.9"/>
<path d="M34,272.5 L34,262.5 Q46,261 56,259 Q61,258 64,260 Q64,268 60,272.5 Z" fill="#000"/>
<ellipse cx="88" cy="268" rx="3.4" ry="5.6" fill="#000"/>
</g>
</g></g>
<rect x="65.9" y="228.5" width="34.8" height="19.1" fill="none" stroke="#222" stroke-width="1" />
<rect x="65.9" y="279.5" width="35.1" height="19.2" fill="none" stroke="#222" stroke-width="1" />
<text class="s" x="52.1" y="242.2" font-size="8.5" fill="#262626" text-anchor="middle" >4.7</text>
<text class="s" x="50.2" y="294.4" font-size="8.5" fill="#262626" text-anchor="middle" >12.4</text>
<line x1="58.5" y1="291.3" x2="66" y2="291.3" stroke="#888" stroke-width="0.5" />
<line x1="100.7" y1="237.9" x2="115" y2="237.9" stroke="#1a1a1a" stroke-width="0.9" />
<polygon points="114,235.6 119.6,237.9 114,240.2" fill="#111"/>
<line x1="101" y1="288.9" x2="115" y2="288.9" stroke="#1a1a1a" stroke-width="0.9" />
<polygon points="114,286.6 119.8,288.9 114,291.2" fill="#111"/>
<rect x="113.1" y="226.6" width="63.5" height="48.29999999999998" fill="none" stroke="#333" stroke-width="0.9" />
<line x1="110.1" y1="274.9" x2="113.1" y2="274.9" stroke="#111" stroke-width="0.8" />
<line x1="111.19999999999999" y1="270.55" x2="113.1" y2="270.55" stroke="#111" stroke-width="0.8" />
<line x1="110.1" y1="266.2" x2="113.1" y2="266.2" stroke="#111" stroke-width="0.8" />
<line x1="111.19999999999999" y1="261.85" x2="113.1" y2="261.85" stroke="#111" stroke-width="0.8" />
<line x1="110.1" y1="257.5" x2="113.1" y2="257.5" stroke="#111" stroke-width="0.8" />
<line x1="111.19999999999999" y1="253.15" x2="113.1" y2="253.15" stroke="#111" stroke-width="0.8" />
<line x1="110.1" y1="248.8" x2="113.1" y2="248.8" stroke="#111" stroke-width="0.8" />
<line x1="111.19999999999999" y1="244.45" x2="113.1" y2="244.45" stroke="#111" stroke-width="0.8" />
<line x1="110.1" y1="240.1" x2="113.1" y2="240.1" stroke="#111" stroke-width="0.8" />
<line x1="111.19999999999999" y1="235.75" x2="113.1" y2="235.75" stroke="#111" stroke-width="0.8" />
<line x1="110.1" y1="231.4" x2="113.1" y2="231.4" stroke="#111" stroke-width="0.8" />
<line x1="111.19999999999999" y1="227.05" x2="113.1" y2="227.05" stroke="#111" stroke-width="0.8" />
<rect x="114.1" y="275.5" width="62.0" height="2.0" fill="#888" opacity="0.45"/>
<line x1="113.1" y1="274.9" x2="113.1" y2="277.9" stroke="#111" stroke-width="0.8" />
<line x1="117.55" y1="274.9" x2="117.55" y2="277.09999999999997" stroke="#111" stroke-width="0.8" />
<line x1="120.15" y1="274.9" x2="120.15" y2="277.09999999999997" stroke="#111" stroke-width="0.8" />
<line x1="121.99" y1="274.9" x2="121.99" y2="277.09999999999997" stroke="#111" stroke-width="0.8" />
<line x1="123.42" y1="274.9" x2="123.42" y2="277.09999999999997" stroke="#111" stroke-width="0.8" />
<line x1="124.59" y1="274.9" x2="124.59" y2="277.09999999999997" stroke="#111" stroke-width="0.8" />
<line x1="125.58" y1="274.9" x2="125.58" y2="277.09999999999997" stroke="#111" stroke-width="0.8" />
<line x1="126.44" y1="274.9" x2="126.44" y2="277.09999999999997" stroke="#111" stroke-width="0.8" />
<line x1="127.19" y1="274.9" x2="127.19" y2="277.09999999999997" stroke="#111" stroke-width="0.8" />
<line x1="127.87" y1="274.9" x2="127.87" y2="277.9" stroke="#111" stroke-width="0.8" />
<line x1="132.31" y1="274.9" x2="132.31" y2="277.09999999999997" stroke="#111" stroke-width="0.8" />
<line x1="134.91" y1="274.9" x2="134.91" y2="277.09999999999997" stroke="#111" stroke-width="0.8" />
<line x1="136.76" y1="274.9" x2="136.76" y2="277.09999999999997" stroke="#111" stroke-width="0.8" />
<line x1="138.19" y1="274.9" x2="138.19" y2="277.09999999999997" stroke="#111" stroke-width="0.8" />
<line x1="139.36" y1="274.9" x2="139.36" y2="277.09999999999997" stroke="#111" stroke-width="0.8" />
<line x1="140.35" y1="274.9" x2="140.35" y2="277.09999999999997" stroke="#111" stroke-width="0.8" />
<line x1="141.2" y1="274.9" x2="141.2" y2="277.09999999999997" stroke="#111" stroke-width="0.8" />
<line x1="141.96" y1="274.9" x2="141.96" y2="277.09999999999997" stroke="#111" stroke-width="0.8" />
<line x1="142.63" y1="274.9" x2="142.63" y2="277.9" stroke="#111" stroke-width="0.8" />
<line x1="147.08" y1="274.9" x2="147.08" y2="277.09999999999997" stroke="#111" stroke-width="0.8" />
<line x1="149.68" y1="274.9" x2="149.68" y2="277.09999999999997" stroke="#111" stroke-width="0.8" />
<line x1="151.53" y1="274.9" x2="151.53" y2="277.09999999999997" stroke="#111" stroke-width="0.8" />
<line x1="152.96" y1="274.9" x2="152.96" y2="277.09999999999997" stroke="#111" stroke-width="0.8" />
<line x1="154.13" y1="274.9" x2="154.13" y2="277.09999999999997" stroke="#111" stroke-width="0.8" />
<line x1="155.11" y1="274.9" x2="155.11" y2="277.09999999999997" stroke="#111" stroke-width="0.8" />
<line x1="155.97" y1="274.9" x2="155.97" y2="277.09999999999997" stroke="#111" stroke-width="0.8" />
<line x1="156.73" y1="274.9" x2="156.73" y2="277.09999999999997" stroke="#111" stroke-width="0.8" />
<line x1="157.4" y1="274.9" x2="157.4" y2="277.9" stroke="#111" stroke-width="0.8" />
<line x1="161.85" y1="274.9" x2="161.85" y2="277.09999999999997" stroke="#111" stroke-width="0.8" />
<line x1="164.45" y1="274.9" x2="164.45" y2="277.09999999999997" stroke="#111" stroke-width="0.8" />
<line x1="166.29" y1="274.9" x2="166.29" y2="277.09999999999997" stroke="#111" stroke-width="0.8" />
<line x1="167.72" y1="274.9" x2="167.72" y2="277.09999999999997" stroke="#111" stroke-width="0.8" />
<line x1="168.89" y1="274.9" x2="168.89" y2="277.09999999999997" stroke="#111" stroke-width="0.8" />
<line x1="169.88" y1="274.9" x2="169.88" y2="277.09999999999997" stroke="#111" stroke-width="0.8" />
<line x1="170.74" y1="274.9" x2="170.74" y2="277.09999999999997" stroke="#111" stroke-width="0.8" />
<line x1="171.49" y1="274.9" x2="171.49" y2="277.09999999999997" stroke="#111" stroke-width="0.8" />
<line x1="172.17" y1="274.9" x2="172.17" y2="277.9" stroke="#111" stroke-width="0.8" />
<rect x="113.1" y="278.9" width="63.900000000000006" height="47.30000000000001" fill="none" stroke="#333" stroke-width="0.9" />
<line x1="110.1" y1="326.2" x2="113.1" y2="326.2" stroke="#111" stroke-width="0.8" />
<line x1="111.19999999999999" y1="321.85" x2="113.1" y2="321.85" stroke="#111" stroke-width="0.8" />
<line x1="110.1" y1="317.5" x2="113.1" y2="317.5" stroke="#111" stroke-width="0.8" />
<line x1="111.19999999999999" y1="313.15" x2="113.1" y2="313.15" stroke="#111" stroke-width="0.8" />
<line x1="110.1" y1="308.8" x2="113.1" y2="308.8" stroke="#111" stroke-width="0.8" />
<line x1="111.19999999999999" y1="304.45" x2="113.1" y2="304.45" stroke="#111" stroke-width="0.8" />
<line x1="110.1" y1="300.1" x2="113.1" y2="300.1" stroke="#111" stroke-width="0.8" />
<line x1="111.19999999999999" y1="295.75" x2="113.1" y2="295.75" stroke="#111" stroke-width="0.8" />
<line x1="110.1" y1="291.4" x2="113.1" y2="291.4" stroke="#111" stroke-width="0.8" />
<line x1="111.19999999999999" y1="287.05" x2="113.1" y2="287.05" stroke="#111" stroke-width="0.8" />
<line x1="110.1" y1="282.7" x2="113.1" y2="282.7" stroke="#111" stroke-width="0.8" />
<rect x="114.1" y="326.8" width="62.400000000000006" height="2.0" fill="#888" opacity="0.45"/>
<line x1="113.1" y1="326.2" x2="113.1" y2="329.2" stroke="#111" stroke-width="0.8" />
<line x1="117.57" y1="326.2" x2="117.57" y2="328.4" stroke="#111" stroke-width="0.8" />
<line x1="120.19" y1="326.2" x2="120.19" y2="328.4" stroke="#111" stroke-width="0.8" />
<line x1="122.05" y1="326.2" x2="122.05" y2="328.4" stroke="#111" stroke-width="0.8" />
<line x1="123.49" y1="326.2" x2="123.49" y2="328.4" stroke="#111" stroke-width="0.8" />
<line x1="124.66" y1="326.2" x2="124.66" y2="328.4" stroke="#111" stroke-width="0.8" />
<line x1="125.66" y1="326.2" x2="125.66" y2="328.4" stroke="#111" stroke-width="0.8" />
<line x1="126.52" y1="326.2" x2="126.52" y2="328.4" stroke="#111" stroke-width="0.8" />
<line x1="127.28" y1="326.2" x2="127.28" y2="328.4" stroke="#111" stroke-width="0.8" />
<line x1="127.96" y1="326.2" x2="127.96" y2="329.2" stroke="#111" stroke-width="0.8" />
<line x1="132.43" y1="326.2" x2="132.43" y2="328.4" stroke="#111" stroke-width="0.8" />
<line x1="135.05" y1="326.2" x2="135.05" y2="328.4" stroke="#111" stroke-width="0.8" />
<line x1="136.91" y1="326.2" x2="136.91" y2="328.4" stroke="#111" stroke-width="0.8" />
<line x1="138.35" y1="326.2" x2="138.35" y2="328.4" stroke="#111" stroke-width="0.8" />
<line x1="139.52" y1="326.2" x2="139.52" y2="328.4" stroke="#111" stroke-width="0.8" />
<line x1="140.52" y1="326.2" x2="140.52" y2="328.4" stroke="#111" stroke-width="0.8" />
<line x1="141.38" y1="326.2" x2="141.38" y2="328.4" stroke="#111" stroke-width="0.8" />
<line x1="142.14" y1="326.2" x2="142.14" y2="328.4" stroke="#111" stroke-width="0.8" />
<line x1="142.82" y1="326.2" x2="142.82" y2="329.2" stroke="#111" stroke-width="0.8" />
<line x1="147.29" y1="326.2" x2="147.29" y2="328.4" stroke="#111" stroke-width="0.8" />
<line x1="149.91" y1="326.2" x2="149.91" y2="328.4" stroke="#111" stroke-width="0.8" />
<line x1="151.77" y1="326.2" x2="151.77" y2="328.4" stroke="#111" stroke-width="0.8" />
<line x1="153.21" y1="326.2" x2="153.21" y2="328.4" stroke="#111" stroke-width="0.8" />
<line x1="154.38" y1="326.2" x2="154.38" y2="328.4" stroke="#111" stroke-width="0.8" />
<line x1="155.38" y1="326.2" x2="155.38" y2="328.4" stroke="#111" stroke-width="0.8" />
<line x1="156.24" y1="326.2" x2="156.24" y2="328.4" stroke="#111" stroke-width="0.8" />
<line x1="157.0" y1="326.2" x2="157.0" y2="328.4" stroke="#111" stroke-width="0.8" />
<line x1="157.68" y1="326.2" x2="157.68" y2="329.2" stroke="#111" stroke-width="0.8" />
<line x1="162.15" y1="326.2" x2="162.15" y2="328.4" stroke="#111" stroke-width="0.8" />
<line x1="164.77" y1="326.2" x2="164.77" y2="328.4" stroke="#111" stroke-width="0.8" />
<line x1="166.63" y1="326.2" x2="166.63" y2="328.4" stroke="#111" stroke-width="0.8" />
<line x1="168.07" y1="326.2" x2="168.07" y2="328.4" stroke="#111" stroke-width="0.8" />
<line x1="169.25" y1="326.2" x2="169.25" y2="328.4" stroke="#111" stroke-width="0.8" />
<line x1="170.24" y1="326.2" x2="170.24" y2="328.4" stroke="#111" stroke-width="0.8" />
<line x1="171.1" y1="326.2" x2="171.1" y2="328.4" stroke="#111" stroke-width="0.8" />
<line x1="171.86" y1="326.2" x2="171.86" y2="328.4" stroke="#111" stroke-width="0.8" />
<line x1="172.54" y1="326.2" x2="172.54" y2="329.2" stroke="#111" stroke-width="0.8" />
<polyline points="113.57,274.54 114.29,274.52 114.88,274.19 115.11,273.25 116.25,273.21 116.89,272.13 117.32,271.98 118.02,272.1 118.23,271.15 118.88,271.68 119.65,270.17 120.17,269.69 120.7,269.34 120.99,270.05 121.74,268.8 122.7,269.15 122.85,268.71 123.52,267.75 124.33,268.22 125.11,267.65 125.72,266.12 126.17,265.83 126.8,265.59 127.39,266.84 127.72,267.45 128.71,266.13 129.61,266.81 129.96,267.24 130.81,267.08 131.42,267.61 131.74,269.33 131.78,269.83 132.43,270.11 132.7,269.79 133.27,271.49 133.76,271.63 134.64,272.32 135.41,271.2 136.26,271.59 136.78,271.35 137.77,271.25 137.94,271.12 138.67,270.13 139.66,270.79 140.21,270.29 141.03,268.94 141.4,268.4 141.76,268.01 142.71,268.7 143.01,266.87 144.27,267.05 144.28,265.97 144.72,266.12 144.98,264.89 145.08,264.92 145.4,263.66 146.19,262.48 146.26,262.99 146.33,262.12 146.17,260.98 146.32,260.91 146.53,259.72 147.05,259.64 147.17,258.43 147.27,258.26 147.65,257.09 147.99,256.33 148.35,256.94 149.06,255.88 148.97,254.83 148.9,254.09 149.46,254.28 149.39,253.52 149.79,252.75 149.89,252.2 149.89,251.48 150.01,250.52 150.45,250.17 150.26,249.92 150.53,248.81 150.25,248.17 150.46,247.74 150.65,247.34 150.83,246.72 150.74,245.9 151.03,245.56 150.89,244.98 151.26,244.16 151.39,243.94 151.21,242.74 151.09,242.57 151.59,241.47 151.53,241.21 151.63,239.84 151.77,241.06 151.83,241.49 151.92,242.63 152.04,243.21 151.82,243.07 152.17,244.41 152.22,243.86 152.62,242.36 152.71,242.02 152.65,241.29 152.97,240.75 153.08,239.95 153.41,239.83 153.66,239.53 153.95,239.46 154.32,238.27 154.51,238.88 154.45,240.08 154.63,239.57 154.8,240.26 154.79,241.21 154.85,242.68 155.01,242.53 155.04,243.45 154.83,243.36 154.99,244.56 155.22,245.73 155.06,245.47 155.25,245.59 154.85,246.99 155.16,247.0 155.21,247.41 155.1,246.14 155.05,245.31 155.5,244.8 155.52,244.91 155.35,243.36 155.6,243.06 155.32,242.18 155.67,241.79 155.31,241.13 155.25,240.7 155.47,239.61 155.69,239.72 155.29,238.68 155.47,238.61 155.93,237.02 155.82,236.27 156.4,235.84 156.36,235.46 156.5,235.01 156.67,233.7 156.8,233.32 156.79,232.74 156.77,232.38 156.98,231.51 157.32,231.25 157.1,230.19 157.52,230.54 157.94,229.44 157.63,229.19 157.92,229.51 158.14,230.19 158.08,231.18 158.09,231.05 158.41,231.38 158.16,232.86 158.09,233.47 158.51,233.51 158.41,234.64 158.9,234.4 158.79,235.62 158.93,235.96 158.87,236.97 159.37,236.9 159.09,237.33 159.45,236.49 159.06,235.95 159.64,235.71 159.53,233.76 159.65,233.38 159.58,233.78 159.66,232.02 159.47,232.49 159.43,231.44 159.62,230.19 159.78,229.4 159.54,229.25 159.56,228.18 159.93,229.78 160.18,229.57 160.01,230.47 160.19,231.35 160.46,231.83 160.05,232.93 160.19,233.48 160.47,234.51 160.58,234.74 160.5,235.29 160.58,236.21 160.81,235.99 160.81,236.95 161.24,237.32 161.39,238.62 161.19,239.27 161.35,239.14 161.79,239.93 162.1,240.91 161.95,241.98 161.94,242.52 162.09,242.33 162.73,243.69 162.45,243.52 163.01,244.9 163.06,244.79 163.09,245.71 163.01,246.29 163.35,246.93 163.36,247.25 163.75,248.59 163.87,248.91 164.0,249.66 163.95,250.37 164.13,250.75 163.87,250.88 164.03,251.52 164.52,252.77 164.55,252.73 164.48,254.61 164.67,254.6 164.71,254.74 164.66,255.42 164.9,256.34 165.31,256.61 165.09,257.39 165.16,258.0 165.33,258.87 165.34,260.09 165.7,260.76 166.05,261.03 166.1,262.05 166.07,262.31 166.34,262.96 166.76,262.89 166.63,263.33 166.81,264.06 167.07,265.96 167.21,265.69 167.43,266.3 167.74,267.56 167.59,267.54 168.03,269.17 168.18,269.1 168.72,269.01 168.55,270.59 169.1,270.06 169.53,271.89 170.04,271.56 170.34,271.73 171.32,272.89 171.98,272.58 172.22,272.87 172.94,273.18 173.46,273.87 174.09,273.57 174.8,274.4" fill="none" stroke="#111" stroke-width="0.9" stroke-linejoin="round"/>
<polyline points="113.35,326.15 113.92,325.54 114.52,324.65 115.65,324.34 116.08,324.44 116.47,324.06 116.83,324.1 117.27,322.83 117.7,322.24 118.38,322.5 118.83,320.76 119.03,321.35 119.19,320.2 119.63,319.63 119.88,319.03 120.23,318.34 120.72,317.61 120.47,316.28 121.09,316.26 120.84,316.29 121.22,315.38 121.56,314.15 121.44,314.37 121.49,313.6 121.63,312.89 122.14,312.64 122.39,311.41 122.15,310.28 122.45,310.16 122.31,310.08 122.68,309.17 122.63,307.91 122.64,307.42 122.9,306.9 123.08,306.85 123.48,305.3 123.32,304.66 123.59,305.16 123.42,304.27 123.56,302.6 123.9,302.46 123.65,301.98 123.77,301.34 123.98,300.74 124.14,299.95 123.95,299.06 124.04,299.06 124.27,298.85 124.43,298.11 124.78,296.6 124.33,296.1 124.61,296.1 124.88,295.19 125.08,294.1 125.08,293.79 125.17,292.95 125.3,293.36 125.38,292.51 125.0,292.46 125.22,290.62 125.39,290.6 125.38,289.52 125.26,289.5 125.52,288.25 125.59,288.48 125.82,287.51 125.72,286.74 125.7,285.9 125.89,285.16 126.13,285.39 126.26,283.66 126.32,283.47 126.37,283.45 127.24,281.9 127.56,282.03 127.65,283.04 128.04,283.81 127.72,284.36 128.33,285.14 128.44,286.07 128.15,285.71 128.4,287.28 128.38,287.84 128.73,287.86 128.68,289.08 128.85,288.77 128.96,289.24 128.77,290.92 129.12,290.63 128.88,291.66 129.25,292.38 129.35,293.06 129.34,293.5 129.14,293.87 129.27,294.63 129.52,294.89 129.14,296.15 129.31,296.33 129.28,297.52 129.42,297.39 129.77,298.31 129.54,299.49 129.68,299.39 130.06,300.63 130.01,300.52 130.11,301.64 130.18,301.97 130.22,303.2 130.07,303.65 130.36,304.77 130.5,305.12 130.13,305.51 130.5,305.42 130.45,307.16 130.77,307.89 130.39,308.09 130.9,308.8 130.66,308.58 131.07,310.38 131.0,310.33 131.17,311.6 131.18,311.95 131.03,312.17 131.12,312.86 131.38,313.19 131.67,314.14 131.52,314.64 131.82,315.52 132.22,315.68 132.07,316.58 132.22,317.85 132.44,317.47 132.95,319.03 133.36,319.38 133.34,320.43 133.83,320.47 134.06,320.54 134.63,319.95 134.47,318.53 134.95,317.74 135.3,316.97 135.53,317.09 135.54,316.24 135.87,315.85 136.01,315.72 136.05,315.19 136.09,313.71 136.94,313.39 137.29,313.05 137.79,311.81 138.39,311.87 138.86,311.45 139.84,311.5 139.99,311.24 140.85,311.05 141.23,310.67 141.54,311.15 141.79,313.12 142.05,313.48 142.47,313.4 142.71,313.89 142.62,315.17 142.79,316.29 143.16,316.4 143.66,316.25 143.93,316.86 143.96,318.42 144.42,318.7 144.65,319.81 144.71,319.72 144.89,320.57 145.27,321.16 145.85,321.74 146.07,321.85 146.2,323.32 147.02,323.29 146.94,323.7 147.52,324.41 148.43,324.72 149.28,325.8 149.93,325.94 150.38,325.47 150.9,326" fill="none" stroke="#111" stroke-width="0.9" stroke-linejoin="round"/>
<line x1="132.2" y1="254.6" x2="174.8" y2="254.6" stroke="#1a1a1a" stroke-width="1" />
<line x1="132.5" y1="306" x2="174.7" y2="306" stroke="#1a1a1a" stroke-width="1" />
<text class="s" x="155.2" y="269.3" font-size="7.9" fill="#262626" text-anchor="middle" textLength="8.6" lengthAdjust="spacingAndGlyphs" >89</text>
<text class="s" x="161.5" y="320" font-size="7.8" fill="#262626" text-anchor="middle" >30</text>
<text class="s" x="33.5" y="233.8" font-size="8" fill="#262626" text-anchor="end" >MigR1-</text>
<text class="s" x="33.5" y="243.4" font-size="8" fill="#262626" text-anchor="end" >GFP</text>
<text class="s" x="32.3" y="285.5" font-size="8" fill="#262626" text-anchor="end" >MigR1</text>
<text class="s" x="33" y="295.3" font-size="8" fill="#262626" text-anchor="end" >-Ezh2</text>
<text transform="translate(32.3,313) rotate(-90)" font-size="8.4" fill="#262626" text-anchor="middle" textLength="26.4" lengthAdjust="spacingAndGlyphs" >CD45.1</text>
<text class="s" x="71.7" y="339.8" font-size="8" fill="#262626" text-anchor="middle" >CD8</text>
<text class="s" x="145.3" y="339.6" font-size="8" fill="#262626" text-anchor="middle" >GFP</text>
</g>
<g id="Cr">
<text class="s" x="240.75" y="194.9" font-size="9.2" fill="#262626" text-anchor="middle" textLength="67.7" lengthAdjust="spacingAndGlyphs" >Gated on donor</text>
<text class="s" x="240.75" y="206.5" font-size="9.4" fill="#262626" text-anchor="middle" textLength="46.1" lengthAdjust="spacingAndGlyphs" >GFP<tspan font-size="5.8" dy="-3.7">+</tspan><tspan dy="3.7"> cells</tspan></text>
<line x1="190.1" y1="212" x2="291.6" y2="212" stroke="#1a1a1a" stroke-width="1.3" />
<text class="s" x="257.4" y="221.5" font-size="7.4" fill="#262626" text-anchor="middle" textLength="23" lengthAdjust="spacingAndGlyphs" >Spleen</text>
<line x1="224.5" y1="225.8" x2="224.5" y2="271.35" stroke="#1a1a1a" stroke-width="1.3" />
<line x1="223.9" y1="270.75" x2="285.0" y2="270.75" stroke="#1a1a1a" stroke-width="1.3" />
<line x1="221.5" y1="270.75" x2="224.5" y2="270.75" stroke="#1a1a1a" stroke-width="1.1" />
<text class="s" x="218.2" y="273.45" font-size="7.6" fill="#262626" text-anchor="end" >0</text>
<line x1="221.5" y1="256.6" x2="224.5" y2="256.6" stroke="#1a1a1a" stroke-width="1.1" />
<text class="s" x="218.2" y="259.3" font-size="7.6" fill="#262626" text-anchor="end" >10</text>
<line x1="221.5" y1="242.45" x2="224.5" y2="242.45" stroke="#1a1a1a" stroke-width="1.1" />
<text class="s" x="218.2" y="245.14999999999998" font-size="7.6" fill="#262626" text-anchor="end" >20</text>
<line x1="221.5" y1="228.3" x2="224.5" y2="228.3" stroke="#1a1a1a" stroke-width="1.1" />
<text class="s" x="218.2" y="231.0" font-size="7.6" fill="#262626" text-anchor="end" >30</text>
<line x1="240.8" y1="270.75" x2="240.8" y2="273.35" stroke="#1a1a1a" stroke-width="1.2" />
<line x1="273.6" y1="270.75" x2="273.6" y2="273.35" stroke="#1a1a1a" stroke-width="1.2" />
<rect x="239.0" y="247.3" width="3.6" height="3.6" fill="#fbeef2" stroke="#861a3a" stroke-width="1.05" />
<rect x="244.8" y="248.0" width="3.6" height="3.6" fill="#fbeef2" stroke="#861a3a" stroke-width="1.05" />
<rect x="233.1" y="257.9" width="3.6" height="3.6" fill="#fbeef2" stroke="#861a3a" stroke-width="1.05" />
<rect x="239.0" y="259.5" width="3.6" height="3.6" fill="#fbeef2" stroke="#861a3a" stroke-width="1.05" />
<rect x="245.4" y="256.9" width="3.6" height="3.6" fill="#fbeef2" stroke="#861a3a" stroke-width="1.05" />
<rect x="239.0" y="264.6" width="3.6" height="3.6" fill="#fbeef2" stroke="#861a3a" stroke-width="1.05" />
<rect x="239.0" y="253.7" width="3.6" height="3.6" fill="#fbeef2" stroke="#861a3a" stroke-width="1.05" />
<line x1="240.8" y1="254.4" x2="240.8" y2="260" stroke="#1a1a1a" stroke-width="1.3" />
<line x1="235.3" y1="254.4" x2="246.3" y2="254.4" stroke="#1a1a1a" stroke-width="1.2" />
<line x1="235.3" y1="260" x2="246.3" y2="260" stroke="#1a1a1a" stroke-width="1.2" />
<line x1="229.8" y1="257.3" x2="251.8" y2="257.3" stroke="#1a1a1a" stroke-width="1.35" />
<circle cx="240.8" cy="257.3" r="1.6" fill="#111"/>
<rect x="271.7" y="229.2" width="3.8" height="3.8" fill="#2a4474" />
<rect x="266.4" y="234.6" width="3.8" height="3.8" fill="#2a4474" />
<rect x="271.5" y="234.6" width="3.8" height="3.8" fill="#2a4474" />
<rect x="271.3" y="252.6" width="3.8" height="3.8" fill="#2a4474" />
<rect x="277.0" y="252.3" width="3.8" height="3.8" fill="#2a4474" />
<line x1="273.5" y1="237.2" x2="273.5" y2="247.3" stroke="#1a1a1a" stroke-width="1.3" />
<line x1="268.25" y1="237.2" x2="278.75" y2="237.2" stroke="#1a1a1a" stroke-width="1.2" />
<line x1="268.25" y1="247.3" x2="278.75" y2="247.3" stroke="#1a1a1a" stroke-width="1.2" />
<line x1="262.2" y1="242.7" x2="284.6" y2="242.7" stroke="#1a1a1a" stroke-width="1.35" />
<circle cx="273.4" cy="223.5" r="1.2" fill="#111"/>
<text class="s" x="257.3" y="286.4" font-size="7.4" fill="#262626" text-anchor="middle" textLength="16" lengthAdjust="spacingAndGlyphs" >Liver</text>
<circle cx="269.4" cy="288.5" r="1.2" fill="#111"/>
<circle cx="273.3" cy="288.5" r="1.2" fill="#111"/>
<circle cx="277.3" cy="288.5" r="1.2" fill="#111"/>
<line x1="224.5" y1="287.6" x2="224.5" y2="333.3" stroke="#1a1a1a" stroke-width="1.3" />
<line x1="223.9" y1="332.7" x2="285.0" y2="332.7" stroke="#1a1a1a" stroke-width="1.3" />
<line x1="221.5" y1="332.7" x2="224.5" y2="332.7" stroke="#1a1a1a" stroke-width="1.1" />
<text class="s" x="218.2" y="335.4" font-size="7.6" fill="#262626" text-anchor="end" >0</text>
<line x1="221.5" y1="322.22499999999997" x2="224.5" y2="322.22499999999997" stroke="#1a1a1a" stroke-width="1.1" />
<text class="s" x="218.2" y="324.92499999999995" font-size="7.6" fill="#262626" text-anchor="end" >5</text>
<line x1="221.5" y1="311.75" x2="224.5" y2="311.75" stroke="#1a1a1a" stroke-width="1.1" />
<text class="s" x="218.2" y="314.45" font-size="7.6" fill="#262626" text-anchor="end" >10</text>
<line x1="221.5" y1="301.275" x2="224.5" y2="301.275" stroke="#1a1a1a" stroke-width="1.1" />
<text class="s" x="218.2" y="303.97499999999997" font-size="7.6" fill="#262626" text-anchor="end" >15</text>
<line x1="221.5" y1="290.79999999999995" x2="224.5" y2="290.79999999999995" stroke="#1a1a1a" stroke-width="1.1" />
<text class="s" x="218.2" y="293.49999999999994" font-size="7.6" fill="#262626" text-anchor="end" >20</text>
<line x1="240.7" y1="332.7" x2="240.7" y2="335.3" stroke="#1a1a1a" stroke-width="1.2" />
<line x1="273.6" y1="332.7" x2="273.6" y2="335.3" stroke="#1a1a1a" stroke-width="1.2" />
<rect x="238.9" y="320.2" width="3.6" height="3.6" fill="#fbeef2" stroke="#861a3a" stroke-width="1.05" />
<rect x="247.2" y="321.9" width="3.6" height="3.6" fill="#fbeef2" stroke="#861a3a" stroke-width="1.05" />
<rect x="233.7" y="325.9" width="3.6" height="3.6" fill="#fbeef2" stroke="#861a3a" stroke-width="1.05" />
<rect x="238.9" y="328.0" width="3.6" height="3.6" fill="#fbeef2" stroke="#861a3a" stroke-width="1.05" />
<rect x="244.9" y="326.4" width="3.6" height="3.6" fill="#fbeef2" stroke="#861a3a" stroke-width="1.05" />
<line x1="240.7" y1="324.5" x2="240.7" y2="328.3" stroke="#1a1a1a" stroke-width="1.3" />
<line x1="235.7" y1="324.5" x2="245.7" y2="324.5" stroke="#1a1a1a" stroke-width="1.2" />
<line x1="235.7" y1="328.3" x2="245.7" y2="328.3" stroke="#1a1a1a" stroke-width="1.2" />
<line x1="230.3" y1="326.3" x2="251.9" y2="326.3" stroke="#1a1a1a" stroke-width="1.35" />
<circle cx="240.7" cy="326.3" r="1.6" fill="#111"/>
<rect x="276.8" y="294.6" width="3.8" height="3.8" fill="#2a4474" />
<rect x="271.7" y="300.1" width="3.8" height="3.8" fill="#2a4474" />
<rect x="271.7" y="305.8" width="3.8" height="3.8" fill="#2a4474" />
<rect x="276.8" y="310.2" width="3.8" height="3.8" fill="#2a4474" />
<rect x="271.7" y="315.2" width="3.8" height="3.8" fill="#2a4474" />
<line x1="273.6" y1="303.2" x2="273.6" y2="311.2" stroke="#1a1a1a" stroke-width="1.3" />
<line x1="268.6" y1="303.2" x2="278.6" y2="303.2" stroke="#1a1a1a" stroke-width="1.2" />
<line x1="268.6" y1="311.2" x2="278.6" y2="311.2" stroke="#1a1a1a" stroke-width="1.2" />
<line x1="262.3" y1="307.2" x2="284.8" y2="307.2" stroke="#1a1a1a" stroke-width="1.35" />
<text class="s" x="240.6" y="346.4" font-size="8" fill="#262626" text-anchor="middle" >MigR1</text>
<text class="s" x="240.6" y="356.2" font-size="8" fill="#262626" text-anchor="middle" >-GFP</text>
<text class="s" x="273.4" y="346.4" font-size="8" fill="#262626" text-anchor="middle" >MigR1</text>
<text class="s" x="273.4" y="356.2" font-size="8" fill="#262626" text-anchor="middle" >-Ezh2</text>
<text transform="translate(202.8,278.8) rotate(-90)" font-size="9" fill="#262626" text-anchor="middle" textLength="71.4" lengthAdjust="spacingAndGlyphs" >CD8 (× 10<tspan font-size="5.8" dy="-3.6">4</tspan><tspan dy="3.6">/organ)</tspan></text>
</g>
<g id="D">
<text class="s" x="437.5" y="23.9" font-size="9.5" fill="#262626" text-anchor="middle" textLength="117.6" lengthAdjust="spacingAndGlyphs" >Gated on donor GFP<tspan font-size="5.8" dy="-3.7">+</tspan><tspan dy="3.7"> cells</tspan></text>
<line x1="356.4" y1="28.6" x2="508.4" y2="28.6" stroke="#1a1a1a" stroke-width="1.3" />
<text class="s" x="387.3" y="38.2" font-size="7.4" fill="#262626" text-anchor="middle" textLength="23" lengthAdjust="spacingAndGlyphs" >Spleen</text>
<text class="s" x="477.5" y="38.2" font-size="7.4" fill="#262626" text-anchor="middle" textLength="15.7" lengthAdjust="spacingAndGlyphs" >Liver</text>
<line x1="354.5" y1="40.4" x2="354.5" y2="84.0" stroke="#1a1a1a" stroke-width="1.3" />
<line x1="353.9" y1="83.4" x2="420.4" y2="83.4" stroke="#1a1a1a" stroke-width="1.3" />
<line x1="351.5" y1="83.4" x2="354.5" y2="83.4" stroke="#1a1a1a" stroke-width="1.1" />
<text class="s" x="348.2" y="86.10000000000001" font-size="7.6" fill="#262626" text-anchor="end" >0</text>
<line x1="351.5" y1="73.45" x2="354.5" y2="73.45" stroke="#1a1a1a" stroke-width="1.1" />
<text class="s" x="348.2" y="76.15" font-size="7.6" fill="#262626" text-anchor="end" >10</text>
<line x1="351.5" y1="63.50000000000001" x2="354.5" y2="63.50000000000001" stroke="#1a1a1a" stroke-width="1.1" />
<text class="s" x="348.2" y="66.2" font-size="7.6" fill="#262626" text-anchor="end" >20</text>
<line x1="351.5" y1="53.550000000000004" x2="354.5" y2="53.550000000000004" stroke="#1a1a1a" stroke-width="1.1" />
<text class="s" x="348.2" y="56.25000000000001" font-size="7.6" fill="#262626" text-anchor="end" >30</text>
<line x1="351.5" y1="43.60000000000001" x2="354.5" y2="43.60000000000001" stroke="#1a1a1a" stroke-width="1.1" />
<text class="s" x="348.2" y="46.30000000000001" font-size="7.6" fill="#262626" text-anchor="end" >40</text>
<line x1="370.9" y1="83.4" x2="370.9" y2="86.0" stroke="#1a1a1a" stroke-width="1.2" />
<line x1="404.1" y1="83.4" x2="404.1" y2="86.0" stroke="#1a1a1a" stroke-width="1.2" />
<rect x="359.5" y="70.8" width="3.6" height="3.6" fill="#fbeef2" stroke="#861a3a" stroke-width="1.05" />
<rect x="364.5" y="71.1" width="3.6" height="3.6" fill="#fbeef2" stroke="#861a3a" stroke-width="1.05" />
<rect x="369.5" y="71.3" width="3.6" height="3.6" fill="#fbeef2" stroke="#861a3a" stroke-width="1.05" />
<rect x="374.3" y="71.1" width="3.6" height="3.6" fill="#fbeef2" stroke="#861a3a" stroke-width="1.05" />
<rect x="379.0" y="70.7" width="3.6" height="3.6" fill="#fbeef2" stroke="#861a3a" stroke-width="1.05" />
<rect x="362.8" y="75.6" width="3.6" height="3.6" fill="#fbeef2" stroke="#861a3a" stroke-width="1.05" />
<rect x="369.2" y="76.0" width="3.6" height="3.6" fill="#fbeef2" stroke="#861a3a" stroke-width="1.05" />
<rect x="375.6" y="75.6" width="3.6" height="3.6" fill="#fbeef2" stroke="#861a3a" stroke-width="1.05" />
<line x1="371" y1="73.6" x2="371" y2="76" stroke="#1a1a1a" stroke-width="1.3" />
<line x1="366.0" y1="73.6" x2="376.0" y2="73.6" stroke="#1a1a1a" stroke-width="1.2" />
<line x1="366.0" y1="76" x2="376.0" y2="76" stroke="#1a1a1a" stroke-width="1.2" />
<line x1="361.5" y1="74.8" x2="381" y2="74.8" stroke="#1a1a1a" stroke-width="1.35" />
<circle cx="371" cy="74.8" r="1.6" fill="#111"/>
<rect x="399.2" y="51.6" width="3.8" height="3.8" fill="#2a4474" />
<rect x="407.9" y="52.1" width="3.8" height="3.8" fill="#2a4474" />
<rect x="397.2" y="55.3" width="3.8" height="3.8" fill="#2a4474" />
<rect x="403.0" y="55.3" width="3.8" height="3.8" fill="#2a4474" />
<rect x="401.8" y="62.6" width="3.8" height="3.8" fill="#2a4474" />
<line x1="404" y1="55.8" x2="404" y2="58.8" stroke="#1a1a1a" stroke-width="1.3" />
<line x1="400.0" y1="55.8" x2="408.0" y2="55.8" stroke="#1a1a1a" stroke-width="1.2" />
<line x1="400.0" y1="58.8" x2="408.0" y2="58.8" stroke="#1a1a1a" stroke-width="1.2" />
<line x1="392.6" y1="57.2" x2="414.7" y2="57.2" stroke="#1a1a1a" stroke-width="1.35" />
<circle cx="399.8" cy="44.2" r="1.2" fill="#111"/>
<circle cx="403.9" cy="44.2" r="1.2" fill="#111"/>
<circle cx="407.7" cy="44.2" r="1.2" fill="#111"/>
<line x1="444.5" y1="40.4" x2="444.5" y2="84.0" stroke="#1a1a1a" stroke-width="1.3" />
<line x1="443.9" y1="83.4" x2="510.4" y2="83.4" stroke="#1a1a1a" stroke-width="1.3" />
<line x1="441.5" y1="83.4" x2="444.5" y2="83.4" stroke="#1a1a1a" stroke-width="1.1" />
<text class="s" x="438.2" y="86.10000000000001" font-size="7.6" fill="#262626" text-anchor="end" >0</text>
<line x1="441.5" y1="70.13000000000001" x2="444.5" y2="70.13000000000001" stroke="#1a1a1a" stroke-width="1.1" />
<text class="s" x="438.2" y="72.83000000000001" font-size="7.6" fill="#262626" text-anchor="end" >10</text>
<line x1="441.5" y1="56.86000000000001" x2="444.5" y2="56.86000000000001" stroke="#1a1a1a" stroke-width="1.1" />
<text class="s" x="438.2" y="59.56000000000001" font-size="7.6" fill="#262626" text-anchor="end" >20</text>
<line x1="441.5" y1="43.59" x2="444.5" y2="43.59" stroke="#1a1a1a" stroke-width="1.1" />
<text class="s" x="438.2" y="46.290000000000006" font-size="7.6" fill="#262626" text-anchor="end" >30</text>
<line x1="460.6" y1="83.4" x2="460.6" y2="86.0" stroke="#1a1a1a" stroke-width="1.2" />
<line x1="494" y1="83.4" x2="494" y2="86.0" stroke="#1a1a1a" stroke-width="1.2" />
<rect x="456.2" y="59.1" width="3.6" height="3.6" fill="#fbeef2" stroke="#861a3a" stroke-width="1.05" />
<rect x="462.0" y="59.1" width="3.6" height="3.6" fill="#fbeef2" stroke="#861a3a" stroke-width="1.05" />
<rect x="452.9" y="61.8" width="3.6" height="3.6" fill="#fbeef2" stroke="#861a3a" stroke-width="1.05" />
<rect x="465.3" y="61.8" width="3.6" height="3.6" fill="#fbeef2" stroke="#861a3a" stroke-width="1.05" />
<rect x="465.3" y="67.3" width="3.6" height="3.6" fill="#fbeef2" stroke="#861a3a" stroke-width="1.05" />
<rect x="459.3" y="70.4" width="3.6" height="3.6" fill="#fbeef2" stroke="#861a3a" stroke-width="1.05" />
<line x1="461" y1="63.5" x2="461" y2="67.8" stroke="#1a1a1a" stroke-width="1.3" />
<line x1="456.5" y1="63.5" x2="465.5" y2="63.5" stroke="#1a1a1a" stroke-width="1.2" />
<line x1="456.5" y1="67.8" x2="465.5" y2="67.8" stroke="#1a1a1a" stroke-width="1.2" />
<line x1="450.1" y1="65.5" x2="472.6" y2="65.5" stroke="#1a1a1a" stroke-width="1.35" />
<circle cx="461" cy="65.5" r="1.6" fill="#111"/>
<rect x="492.1" y="48.6" width="3.8" height="3.8" fill="#2a4474" />
<rect x="487.5" y="54.4" width="3.8" height="3.8" fill="#2a4474" />
<rect x="494.8" y="54.4" width="3.8" height="3.8" fill="#2a4474" />
<rect x="491.7" y="59.0" width="3.8" height="3.8" fill="#2a4474" />
<rect x="498.5" y="57.5" width="3.8" height="3.8" fill="#2a4474" />
<line x1="494" y1="55.5" x2="494" y2="58.5" stroke="#1a1a1a" stroke-width="1.3" />
<line x1="489.5" y1="55.5" x2="498.5" y2="55.5" stroke="#1a1a1a" stroke-width="1.2" />
<line x1="489.5" y1="58.5" x2="498.5" y2="58.5" stroke="#1a1a1a" stroke-width="1.2" />
<line x1="483" y1="56.8" x2="505.3" y2="56.8" stroke="#1a1a1a" stroke-width="1.35" />
<circle cx="492.1" cy="43" r="1.2" fill="#111"/>
<circle cx="496.1" cy="43" r="1.2" fill="#111"/>
<line x1="354.5" y1="98.1" x2="354.5" y2="141.5" stroke="#1a1a1a" stroke-width="1.3" />
<line x1="353.9" y1="140.9" x2="420.6" y2="140.9" stroke="#1a1a1a" stroke-width="1.3" />
<line x1="351.5" y1="140.9" x2="354.5" y2="140.9" stroke="#1a1a1a" stroke-width="1.1" />
<text class="s" x="348.2" y="143.6" font-size="7.6" fill="#262626" text-anchor="end" >0</text>
<line x1="351.5" y1="132.98000000000002" x2="354.5" y2="132.98000000000002" stroke="#1a1a1a" stroke-width="1.1" />
<text class="s" x="348.2" y="135.68" font-size="7.6" fill="#262626" text-anchor="end" >2</text>
<line x1="351.5" y1="125.06" x2="354.5" y2="125.06" stroke="#1a1a1a" stroke-width="1.1" />
<text class="s" x="348.2" y="127.76" font-size="7.6" fill="#262626" text-anchor="end" >4</text>
<line x1="351.5" y1="117.14000000000001" x2="354.5" y2="117.14000000000001" stroke="#1a1a1a" stroke-width="1.1" />
<text class="s" x="348.2" y="119.84000000000002" font-size="7.6" fill="#262626" text-anchor="end" >6</text>
<line x1="351.5" y1="109.22" x2="354.5" y2="109.22" stroke="#1a1a1a" stroke-width="1.1" />
<text class="s" x="348.2" y="111.92" font-size="7.6" fill="#262626" text-anchor="end" >8</text>
<line x1="351.5" y1="101.30000000000001" x2="354.5" y2="101.30000000000001" stroke="#1a1a1a" stroke-width="1.1" />
<text class="s" x="348.2" y="104.00000000000001" font-size="7.6" fill="#262626" text-anchor="end" >10</text>
<line x1="370.9" y1="140.9" x2="370.9" y2="143.5" stroke="#1a1a1a" stroke-width="1.2" />
<line x1="403.5" y1="140.9" x2="403.5" y2="143.5" stroke="#1a1a1a" stroke-width="1.2" />
<rect x="359.5" y="134.0" width="3.6" height="3.6" fill="#fbeef2" stroke="#861a3a" stroke-width="1.05" />
<rect x="364.1" y="134.1" width="3.6" height="3.6" fill="#fbeef2" stroke="#861a3a" stroke-width="1.05" />
<rect x="368.8" y="134.2" width="3.6" height="3.6" fill="#fbeef2" stroke="#861a3a" stroke-width="1.05" />
<rect x="373.5" y="134.1" width="3.6" height="3.6" fill="#fbeef2" stroke="#861a3a" stroke-width="1.05" />
<rect x="378.7" y="134.0" width="3.6" height="3.6" fill="#fbeef2" stroke="#861a3a" stroke-width="1.05" />
<rect x="361.8" y="136.2" width="3.6" height="3.6" fill="#fbeef2" stroke="#861a3a" stroke-width="1.05" />
<rect x="366.4" y="136.4" width="3.6" height="3.6" fill="#fbeef2" stroke="#861a3a" stroke-width="1.05" />
<rect x="371.2" y="136.4" width="3.6" height="3.6" fill="#fbeef2" stroke="#861a3a" stroke-width="1.05" />
<rect x="376.2" y="136.2" width="3.6" height="3.6" fill="#fbeef2" stroke="#861a3a" stroke-width="1.05" />
<line x1="371" y1="136.2" x2="371" y2="137.6" stroke="#1a1a1a" stroke-width="1.3" />
<line x1="365.0" y1="136.2" x2="377.0" y2="136.2" stroke="#1a1a1a" stroke-width="1.2" />
<line x1="365.0" y1="137.6" x2="377.0" y2="137.6" stroke="#1a1a1a" stroke-width="1.2" />
<line x1="362" y1="136.9" x2="380" y2="136.9" stroke="#1a1a1a" stroke-width="1.35" />
<circle cx="371" cy="136.9" r="1.6" fill="#111"/>
<rect x="402.2" y="105.5" width="3.8" height="3.8" fill="#2a4474" />
<rect x="401.8" y="113.2" width="3.8" height="3.8" fill="#2a4474" />
<rect x="402.2" y="119.8" width="3.8" height="3.8" fill="#2a4474" />
<rect x="402.2" y="126.8" width="3.8" height="3.8" fill="#2a4474" />
<rect x="407.9" y="125.5" width="3.8" height="3.8" fill="#2a4474" />
<line x1="403.8" y1="116.3" x2="403.8" y2="124.4" stroke="#1a1a1a" stroke-width="1.3" />
<line x1="398.40000000000003" y1="116.3" x2="409.2" y2="116.3" stroke="#1a1a1a" stroke-width="1.2" />
<line x1="398.40000000000003" y1="124.4" x2="409.2" y2="124.4" stroke="#1a1a1a" stroke-width="1.2" />
<line x1="392.3" y1="120.1" x2="415.3" y2="120.1" stroke="#1a1a1a" stroke-width="1.35" />
<circle cx="399.8" cy="98.5" r="1.2" fill="#111"/>
<circle cx="403.8" cy="98.5" r="1.2" fill="#111"/>
<circle cx="407.6" cy="98.5" r="1.2" fill="#111"/>
<line x1="444.5" y1="98.2" x2="444.5" y2="141.5" stroke="#1a1a1a" stroke-width="1.3" />
<line x1="443.9" y1="140.9" x2="510.6" y2="140.9" stroke="#1a1a1a" stroke-width="1.3" />
<line x1="441.5" y1="140.9" x2="444.5" y2="140.9" stroke="#1a1a1a" stroke-width="1.1" />
<text class="s" x="438.2" y="143.6" font-size="7.6" fill="#262626" text-anchor="end" >0</text>
<line x1="441.5" y1="131.0" x2="444.5" y2="131.0" stroke="#1a1a1a" stroke-width="1.1" />
<text class="s" x="438.2" y="133.7" font-size="7.6" fill="#262626" text-anchor="end" >1</text>
<line x1="441.5" y1="121.10000000000001" x2="444.5" y2="121.10000000000001" stroke="#1a1a1a" stroke-width="1.1" />
<text class="s" x="438.2" y="123.80000000000001" font-size="7.6" fill="#262626" text-anchor="end" >2</text>
<line x1="441.5" y1="111.2" x2="444.5" y2="111.2" stroke="#1a1a1a" stroke-width="1.1" />
<text class="s" x="438.2" y="113.9" font-size="7.6" fill="#262626" text-anchor="end" >3</text>
<line x1="441.5" y1="101.30000000000001" x2="444.5" y2="101.30000000000001" stroke="#1a1a1a" stroke-width="1.1" />
<text class="s" x="438.2" y="104.00000000000001" font-size="7.6" fill="#262626" text-anchor="end" >4</text>
<line x1="460.8" y1="140.9" x2="460.8" y2="143.5" stroke="#1a1a1a" stroke-width="1.2" />
<line x1="493.8" y1="140.9" x2="493.8" y2="143.5" stroke="#1a1a1a" stroke-width="1.2" />
<rect x="449.9" y="132.6" width="3.6" height="3.6" fill="#fbeef2" stroke="#861a3a" stroke-width="1.05" />
<rect x="454.4" y="132.8" width="3.6" height="3.6" fill="#fbeef2" stroke="#861a3a" stroke-width="1.05" />
<rect x="459.2" y="132.9" width="3.6" height="3.6" fill="#fbeef2" stroke="#861a3a" stroke-width="1.05" />
<rect x="464.1" y="132.8" width="3.6" height="3.6" fill="#fbeef2" stroke="#861a3a" stroke-width="1.05" />
<rect x="468.8" y="132.6" width="3.6" height="3.6" fill="#fbeef2" stroke="#861a3a" stroke-width="1.05" />
<rect x="452.2" y="136.6" width="3.6" height="3.6" fill="#fbeef2" stroke="#861a3a" stroke-width="1.05" />
<rect x="457.7" y="136.8" width="3.6" height="3.6" fill="#fbeef2" stroke="#861a3a" stroke-width="1.05" />
<rect x="463.2" y="136.8" width="3.6" height="3.6" fill="#fbeef2" stroke="#861a3a" stroke-width="1.05" />
<rect x="467.2" y="136.6" width="3.6" height="3.6" fill="#fbeef2" stroke="#861a3a" stroke-width="1.05" />
<line x1="461" y1="135.8" x2="461" y2="137" stroke="#1a1a1a" stroke-width="1.3" />
<line x1="455.0" y1="135.8" x2="467.0" y2="135.8" stroke="#1a1a1a" stroke-width="1.2" />
<line x1="455.0" y1="137" x2="467.0" y2="137" stroke="#1a1a1a" stroke-width="1.2" />
<line x1="452" y1="136.4" x2="470" y2="136.4" stroke="#1a1a1a" stroke-width="1.35" />
<circle cx="461" cy="136.4" r="1.6" fill="#111"/>
<rect x="497.9" y="105.8" width="3.8" height="3.8" fill="#2a4474" />
<rect x="491.4" y="110.6" width="3.8" height="3.8" fill="#2a4474" />
<rect x="485.2" y="114.4" width="3.8" height="3.8" fill="#2a4474" />
<rect x="491.4" y="120.3" width="3.8" height="3.8" fill="#2a4474" />
<rect x="491.4" y="126.4" width="3.8" height="3.8" fill="#2a4474" />
<line x1="493.5" y1="113.4" x2="493.5" y2="120.6" stroke="#1a1a1a" stroke-width="1.3" />
<line x1="488.2" y1="113.4" x2="498.8" y2="113.4" stroke="#1a1a1a" stroke-width="1.2" />
<line x1="488.2" y1="120.6" x2="498.8" y2="120.6" stroke="#1a1a1a" stroke-width="1.2" />
<line x1="482.3" y1="117.4" x2="505.3" y2="117.4" stroke="#1a1a1a" stroke-width="1.35" />
<circle cx="489.8" cy="98" r="1.2" fill="#111"/>
<circle cx="493.8" cy="98" r="1.2" fill="#111"/>
<circle cx="497.7" cy="98" r="1.2" fill="#111"/>
<text class="s" x="370.8" y="154.7" font-size="8" fill="#262626" text-anchor="middle" >MigR1</text>
<text class="s" x="370.8" y="164.2" font-size="8" fill="#262626" text-anchor="middle" >-GFP</text>
<text class="s" x="403.2" y="154.7" font-size="8" fill="#262626" text-anchor="middle" >MigR1</text>
<text class="s" x="403.2" y="164.2" font-size="8" fill="#262626" text-anchor="middle" >-Ezh2</text>
<text class="s" x="460.9" y="154.7" font-size="8" fill="#262626" text-anchor="middle" >MigR1</text>
<text class="s" x="460.9" y="164.2" font-size="8" fill="#262626" text-anchor="middle" >-GFP</text>
<text class="s" x="493.2" y="154.7" font-size="8" fill="#262626" text-anchor="middle" >MigR1</text>
<text class="s" x="493.2" y="164.2" font-size="8" fill="#262626" text-anchor="middle" >-Ezh2</text>
<text transform="translate(322.2,61.9) rotate(-90)" font-size="9" fill="#262626" text-anchor="middle" textLength="52.4" lengthAdjust="spacingAndGlyphs" >IFN-γ<tspan font-size="5.8" dy="-3.6">+</tspan><tspan dy="3.6"> T cells</tspan></text>
<text transform="translate(333,61.9) rotate(-90)" font-size="9" fill="#262626" text-anchor="middle" textLength="13.4" lengthAdjust="spacingAndGlyphs" >(%)</text>
<text transform="translate(321.2,118.35) rotate(-90)" font-size="9" fill="#262626" text-anchor="middle" textLength="52.5" lengthAdjust="spacingAndGlyphs" >IFN-γ<tspan font-size="5.8" dy="-3.6">+</tspan><tspan dy="3.6"> T cells</tspan></text>
<text transform="translate(332.2,118.95) rotate(-90)" font-size="9" fill="#262626" text-anchor="middle" textLength="52.9" lengthAdjust="spacingAndGlyphs" >(× 10<tspan font-size="5.8" dy="-3.6">4</tspan><tspan dy="3.6">/organ)</tspan></text>
</g>
<g id="E">
<text class="s" x="433.9" y="208.7" font-size="9.5" fill="#262626" text-anchor="middle" textLength="117.4" lengthAdjust="spacingAndGlyphs" >Gated on donor GFP<tspan font-size="5.8" dy="-3.7">+</tspan><tspan dy="3.7"> cells</tspan></text>
<line x1="357.6" y1="213.8" x2="509.9" y2="213.8" stroke="#1a1a1a" stroke-width="1.3" />
<text class="s" x="387.5" y="223.5" font-size="7.4" fill="#262626" text-anchor="middle" textLength="23.5" lengthAdjust="spacingAndGlyphs" >Spleen</text>
<text class="s" x="479.8" y="223.5" font-size="7.4" fill="#262626" text-anchor="middle" textLength="15.6" lengthAdjust="spacingAndGlyphs" >Liver</text>
<line x1="354.5" y1="225.2" x2="354.5" y2="268.1" stroke="#1a1a1a" stroke-width="1.3" />
<line x1="353.9" y1="267.5" x2="420.4" y2="267.5" stroke="#1a1a1a" stroke-width="1.3" />
<line x1="351.5" y1="267.5" x2="354.5" y2="267.5" stroke="#1a1a1a" stroke-width="1.1" />
<text class="s" x="348.2" y="270.2" font-size="7.6" fill="#262626" text-anchor="end" >0</text>
<line x1="351.5" y1="259.6" x2="354.5" y2="259.6" stroke="#1a1a1a" stroke-width="1.1" />
<text class="s" x="348.2" y="262.3" font-size="7.6" fill="#262626" text-anchor="end" >5</text>
<line x1="351.5" y1="251.7" x2="354.5" y2="251.7" stroke="#1a1a1a" stroke-width="1.1" />
<text class="s" x="348.2" y="254.39999999999998" font-size="7.6" fill="#262626" text-anchor="end" >10</text>
<line x1="351.5" y1="243.8" x2="354.5" y2="243.8" stroke="#1a1a1a" stroke-width="1.1" />
<text class="s" x="348.2" y="246.5" font-size="7.6" fill="#262626" text-anchor="end" >15</text>
<line x1="351.5" y1="235.9" x2="354.5" y2="235.9" stroke="#1a1a1a" stroke-width="1.1" />
<text class="s" x="348.2" y="238.6" font-size="7.6" fill="#262626" text-anchor="end" >20</text>
<line x1="351.5" y1="228.0" x2="354.5" y2="228.0" stroke="#1a1a1a" stroke-width="1.1" />
<text class="s" x="348.2" y="230.7" font-size="7.6" fill="#262626" text-anchor="end" >25</text>
<line x1="370.6" y1="267.5" x2="370.6" y2="270.1" stroke="#1a1a1a" stroke-width="1.2" />
<line x1="404.5" y1="267.5" x2="404.5" y2="270.1" stroke="#1a1a1a" stroke-width="1.2" />
<rect x="369.3" y="244.1" width="3.6" height="3.6" fill="#fbeef2" stroke="#861a3a" stroke-width="1.05" />
<rect x="375.3" y="243.4" width="3.6" height="3.6" fill="#fbeef2" stroke="#861a3a" stroke-width="1.05" />
<rect x="362.8" y="247.1" width="3.6" height="3.6" fill="#fbeef2" stroke="#861a3a" stroke-width="1.05" />
<rect x="362.8" y="250.3" width="3.6" height="3.6" fill="#fbeef2" stroke="#861a3a" stroke-width="1.05" />
<rect x="369.3" y="255.6" width="3.6" height="3.6" fill="#fbeef2" stroke="#861a3a" stroke-width="1.05" />
<rect x="375.3" y="254.3" width="3.6" height="3.6" fill="#fbeef2" stroke="#861a3a" stroke-width="1.05" />
<line x1="371" y1="249.6" x2="371" y2="252.8" stroke="#1a1a1a" stroke-width="1.3" />
<line x1="367.0" y1="249.6" x2="375.0" y2="249.6" stroke="#1a1a1a" stroke-width="1.2" />
<line x1="367.0" y1="252.8" x2="375.0" y2="252.8" stroke="#1a1a1a" stroke-width="1.2" />
<line x1="360" y1="251.2" x2="382.3" y2="251.2" stroke="#1a1a1a" stroke-width="1.35" />
<circle cx="371" cy="251.2" r="1.6" fill="#111"/>
<rect x="395.3" y="234.0" width="3.8" height="3.8" fill="#2a4474" />
<rect x="401.9" y="235.6" width="3.8" height="3.8" fill="#2a4474" />
<rect x="395.0" y="240.9" width="3.8" height="3.8" fill="#2a4474" />
<rect x="401.6" y="243.9" width="3.8" height="3.8" fill="#2a4474" />
<rect x="407.5" y="242.2" width="3.8" height="3.8" fill="#2a4474" />
<line x1="403.5" y1="239.5" x2="403.5" y2="242.9" stroke="#1a1a1a" stroke-width="1.3" />
<line x1="399.0" y1="239.5" x2="408.0" y2="239.5" stroke="#1a1a1a" stroke-width="1.2" />
<line x1="399.0" y1="242.9" x2="408.0" y2="242.9" stroke="#1a1a1a" stroke-width="1.2" />
<line x1="392.3" y1="241.4" x2="414.6" y2="241.4" stroke="#1a1a1a" stroke-width="1.35" />
<circle cx="401.5" cy="228.5" r="1.2" fill="#111"/>
<circle cx="405.5" cy="228.5" r="1.2" fill="#111"/>
<line x1="447" y1="225.2" x2="447" y2="268.1" stroke="#1a1a1a" stroke-width="1.3" />
<line x1="446.4" y1="267.5" x2="512.3" y2="267.5" stroke="#1a1a1a" stroke-width="1.3" />
<line x1="444.0" y1="267.5" x2="447" y2="267.5" stroke="#1a1a1a" stroke-width="1.1" />
<text class="s" x="440.7" y="270.2" font-size="7.6" fill="#262626" text-anchor="end" >0</text>
<line x1="444.0" y1="254.365" x2="447" y2="254.365" stroke="#1a1a1a" stroke-width="1.1" />
<text class="s" x="440.7" y="257.065" font-size="7.6" fill="#262626" text-anchor="end" >5</text>
<line x1="444.0" y1="241.23000000000002" x2="447" y2="241.23000000000002" stroke="#1a1a1a" stroke-width="1.1" />
<text class="s" x="440.7" y="243.93" font-size="7.6" fill="#262626" text-anchor="end" >10</text>
<line x1="444.0" y1="228.095" x2="447" y2="228.095" stroke="#1a1a1a" stroke-width="1.1" />
<text class="s" x="440.7" y="230.795" font-size="7.6" fill="#262626" text-anchor="end" >15</text>
<line x1="463.8" y1="267.5" x2="463.8" y2="270.1" stroke="#1a1a1a" stroke-width="1.2" />
<line x1="496.7" y1="267.5" x2="496.7" y2="270.1" stroke="#1a1a1a" stroke-width="1.2" />
<rect x="461.7" y="238.5" width="3.6" height="3.6" fill="#fbeef2" stroke="#861a3a" stroke-width="1.05" />
<rect x="461.7" y="245.3" width="3.6" height="3.6" fill="#fbeef2" stroke="#861a3a" stroke-width="1.05" />
<rect x="455.7" y="251.3" width="3.6" height="3.6" fill="#fbeef2" stroke="#861a3a" stroke-width="1.05" />
<rect x="461.1" y="252.6" width="3.6" height="3.6" fill="#fbeef2" stroke="#861a3a" stroke-width="1.05" />
<rect x="467.5" y="252.2" width="3.6" height="3.6" fill="#fbeef2" stroke="#861a3a" stroke-width="1.05" />
<rect x="458.4" y="248.6" width="3.6" height="3.6" fill="#fbeef2" stroke="#861a3a" stroke-width="1.05" />
<line x1="463.5" y1="248.5" x2="463.5" y2="252.2" stroke="#1a1a1a" stroke-width="1.3" />
<line x1="459.0" y1="248.5" x2="468.0" y2="248.5" stroke="#1a1a1a" stroke-width="1.2" />
<line x1="459.0" y1="252.2" x2="468.0" y2="252.2" stroke="#1a1a1a" stroke-width="1.2" />
<line x1="452" y1="250.4" x2="474.4" y2="250.4" stroke="#1a1a1a" stroke-width="1.35" />
<circle cx="463.5" cy="250.4" r="1.6" fill="#111"/>
<rect x="488.4" y="241.2" width="3.8" height="3.8" fill="#2a4474" />
<rect x="500.3" y="239.7" width="3.8" height="3.8" fill="#2a4474" />
<rect x="494.5" y="243.0" width="3.8" height="3.8" fill="#2a4474" />
<rect x="494.5" y="250.7" width="3.8" height="3.8" fill="#2a4474" />
<rect x="500.3" y="249.4" width="3.8" height="3.8" fill="#2a4474" />
<line x1="496.4" y1="244.5" x2="496.4" y2="249" stroke="#1a1a1a" stroke-width="1.3" />
<line x1="492.4" y1="244.5" x2="500.4" y2="244.5" stroke="#1a1a1a" stroke-width="1.2" />
<line x1="492.4" y1="249" x2="500.4" y2="249" stroke="#1a1a1a" stroke-width="1.2" />
<line x1="484.9" y1="246.7" x2="507.7" y2="246.7" stroke="#1a1a1a" stroke-width="1.35" />
<circle cx="496.4" cy="246.7" r="1.6" fill="#111"/>
<line x1="354.5" y1="287.2" x2="354.5" y2="329.90000000000003" stroke="#1a1a1a" stroke-width="1.3" />
<line x1="353.9" y1="329.3" x2="419.6" y2="329.3" stroke="#1a1a1a" stroke-width="1.3" />
<line x1="351.5" y1="329.3" x2="354.5" y2="329.3" stroke="#1a1a1a" stroke-width="1.1" />
<text class="s" x="348.2" y="332.0" font-size="7.6" fill="#262626" text-anchor="end" >0</text>
<line x1="351.5" y1="316.23400000000004" x2="354.5" y2="316.23400000000004" stroke="#1a1a1a" stroke-width="1.1" />
<text class="s" x="348.2" y="318.934" font-size="7.6" fill="#262626" text-anchor="end" >2</text>
<line x1="351.5" y1="303.168" x2="354.5" y2="303.168" stroke="#1a1a1a" stroke-width="1.1" />
<text class="s" x="348.2" y="305.868" font-size="7.6" fill="#262626" text-anchor="end" >4</text>
<line x1="351.5" y1="290.10200000000003" x2="354.5" y2="290.10200000000003" stroke="#1a1a1a" stroke-width="1.1" />
<text class="s" x="348.2" y="292.802" font-size="7.6" fill="#262626" text-anchor="end" >6</text>
<line x1="370.8" y1="329.3" x2="370.8" y2="331.90000000000003" stroke="#1a1a1a" stroke-width="1.2" />
<line x1="403.5" y1="329.3" x2="403.5" y2="331.90000000000003" stroke="#1a1a1a" stroke-width="1.2" />
<rect x="369.3" y="314.2" width="3.6" height="3.6" fill="#fbeef2" stroke="#861a3a" stroke-width="1.05" />
<rect x="362.9" y="319.0" width="3.6" height="3.6" fill="#fbeef2" stroke="#861a3a" stroke-width="1.05" />
<rect x="374.8" y="317.5" width="3.6" height="3.6" fill="#fbeef2" stroke="#861a3a" stroke-width="1.05" />
<rect x="363.8" y="323.0" width="3.6" height="3.6" fill="#fbeef2" stroke="#861a3a" stroke-width="1.05" />
<rect x="374.8" y="323.4" width="3.6" height="3.6" fill="#fbeef2" stroke="#861a3a" stroke-width="1.05" />
<rect x="369.3" y="325.2" width="3.6" height="3.6" fill="#fbeef2" stroke="#861a3a" stroke-width="1.05" />
<line x1="371" y1="320.2" x2="371" y2="324" stroke="#1a1a1a" stroke-width="1.3" />
<line x1="366.5" y1="320.2" x2="375.5" y2="320.2" stroke="#1a1a1a" stroke-width="1.2" />
<line x1="366.5" y1="324" x2="375.5" y2="324" stroke="#1a1a1a" stroke-width="1.2" />
<line x1="360.1" y1="322.1" x2="382.1" y2="322.1" stroke="#1a1a1a" stroke-width="1.35" />
<circle cx="371" cy="322.1" r="1.6" fill="#111"/>
<rect x="402.1" y="290.9" width="3.8" height="3.8" fill="#2a4474" />
<rect x="396.1" y="303.7" width="3.8" height="3.8" fill="#2a4474" />
<rect x="402.1" y="316.0" width="3.8" height="3.8" fill="#2a4474" />
<rect x="407.6" y="313.4" width="3.8" height="3.8" fill="#2a4474" />
<line x1="404" y1="303.2" x2="404" y2="312.4" stroke="#1a1a1a" stroke-width="1.3" />
<line x1="399.0" y1="303.2" x2="409.0" y2="303.2" stroke="#1a1a1a" stroke-width="1.2" />
<line x1="399.0" y1="312.4" x2="409.0" y2="312.4" stroke="#1a1a1a" stroke-width="1.2" />
<line x1="392.1" y1="307.4" x2="415" y2="307.4" stroke="#1a1a1a" stroke-width="1.35" />
<circle cx="404" cy="307.4" r="1.6" fill="#111"/>
<circle cx="401.7" cy="285.7" r="1.2" fill="#111"/>
<circle cx="405.5" cy="285.7" r="1.2" fill="#111"/>
<line x1="447" y1="287.2" x2="447" y2="329.90000000000003" stroke="#1a1a1a" stroke-width="1.3" />
<line x1="446.4" y1="329.3" x2="512.3" y2="329.3" stroke="#1a1a1a" stroke-width="1.3" />
<line x1="444.0" y1="290.1" x2="447" y2="290.1" stroke="#1a1a1a" stroke-width="1.1" />
<text class="s" x="440.7" y="292.8" font-size="7.6" fill="#262626" text-anchor="end" >1.5</text>
<line x1="444.0" y1="303.17" x2="447" y2="303.17" stroke="#1a1a1a" stroke-width="1.1" />
<text class="s" x="440.7" y="305.87" font-size="7.6" fill="#262626" text-anchor="end" >1.0</text>
<line x1="444.0" y1="316.2" x2="447" y2="316.2" stroke="#1a1a1a" stroke-width="1.1" />
<text class="s" x="440.7" y="318.9" font-size="7.6" fill="#262626" text-anchor="end" >0.5</text>
<line x1="444.0" y1="329.3" x2="447" y2="329.3" stroke="#1a1a1a" stroke-width="1.1" />
<text class="s" x="440.7" y="332.0" font-size="7.6" fill="#262626" text-anchor="end" >0</text>
<line x1="463.1" y1="329.3" x2="463.1" y2="331.90000000000003" stroke="#1a1a1a" stroke-width="1.2" />
<line x1="495.7" y1="329.3" x2="495.7" y2="331.90000000000003" stroke="#1a1a1a" stroke-width="1.2" />
<rect x="461.7" y="317.5" width="3.6" height="3.6" fill="#fbeef2" stroke="#861a3a" stroke-width="1.05" />
<rect x="470.8" y="320.3" width="3.6" height="3.6" fill="#fbeef2" stroke="#861a3a" stroke-width="1.05" />
<rect x="455.7" y="323.0" width="3.6" height="3.6" fill="#fbeef2" stroke="#861a3a" stroke-width="1.05" />
<rect x="461.1" y="323.9" width="3.6" height="3.6" fill="#fbeef2" stroke="#861a3a" stroke-width="1.05" />
<rect x="467.5" y="323.0" width="3.6" height="3.6" fill="#fbeef2" stroke="#861a3a" stroke-width="1.05" />
<line x1="452" y1="323.3" x2="474.4" y2="323.3" stroke="#1a1a1a" stroke-width="1.35" />
<circle cx="463.5" cy="323.3" r="1.6" fill="#111"/>
<rect x="487.2" y="302.4" width="3.8" height="3.8" fill="#2a4474" />
<rect x="491.2" y="301.3" width="3.8" height="3.8" fill="#2a4474" />
<rect x="500.3" y="302.4" width="3.8" height="3.8" fill="#2a4474" />
<rect x="494.5" y="312.9" width="3.8" height="3.8" fill="#2a4474" />
<line x1="496.4" y1="305.3" x2="496.4" y2="309.3" stroke="#1a1a1a" stroke-width="1.3" />
<line x1="492.4" y1="305.3" x2="500.4" y2="305.3" stroke="#1a1a1a" stroke-width="1.2" />
<line x1="492.4" y1="309.3" x2="500.4" y2="309.3" stroke="#1a1a1a" stroke-width="1.2" />
<line x1="484.9" y1="307.1" x2="507.3" y2="307.1" stroke="#1a1a1a" stroke-width="1.35" />
<circle cx="496.4" cy="307.1" r="1.6" fill="#111"/>
<circle cx="492.1" cy="294" r="1.2" fill="#111"/>
<circle cx="495.8" cy="294" r="1.2" fill="#111"/>
<circle cx="499.7" cy="294" r="1.2" fill="#111"/>
<text class="s" x="370.8" y="342.9" font-size="8" fill="#262626" text-anchor="middle" >MigR1</text>
<text class="s" x="370.8" y="352.8" font-size="8" fill="#262626" text-anchor="middle" >-GFP</text>
<text class="s" x="403.2" y="342.9" font-size="8" fill="#262626" text-anchor="middle" >MigR1</text>
<text class="s" x="403.2" y="352.8" font-size="8" fill="#262626" text-anchor="middle" >-Ezh2</text>
<text class="s" x="463" y="342.9" font-size="8" fill="#262626" text-anchor="middle" >MigR1</text>
<text class="s" x="463" y="352.8" font-size="8" fill="#262626" text-anchor="middle" >-GFP</text>
<text class="s" x="495.6" y="342.9" font-size="8" fill="#262626" text-anchor="middle" >MigR1</text>
<text class="s" x="495.6" y="352.8" font-size="8" fill="#262626" text-anchor="middle" >-Ezh2</text>
<text transform="translate(321.9,246.95) rotate(-90)" font-size="9" fill="#262626" text-anchor="middle" textLength="54.7" lengthAdjust="spacingAndGlyphs" >TNF-α<tspan font-size="5.8" dy="-3.6">+</tspan><tspan dy="3.6"> T cells</tspan></text>
<text transform="translate(333.4,246.3) rotate(-90)" font-size="9" fill="#262626" text-anchor="middle" textLength="13.8" lengthAdjust="spacingAndGlyphs" >(%)</text>
<text transform="translate(321.5,307.3) rotate(-90)" font-size="9" fill="#262626" text-anchor="middle" textLength="53.6" lengthAdjust="spacingAndGlyphs" >TNF-α<tspan font-size="5.8" dy="-3.6">+</tspan><tspan dy="3.6"> T cells</tspan></text>
<text transform="translate(333.6,308) rotate(-90)" font-size="9" fill="#262626" text-anchor="middle" textLength="52.2" lengthAdjust="spacingAndGlyphs" >(× 10<tspan font-size="5.8" dy="-3.6">4</tspan><tspan dy="3.6">/organ)</tspan></text>
</g>
</svg></body></html>
